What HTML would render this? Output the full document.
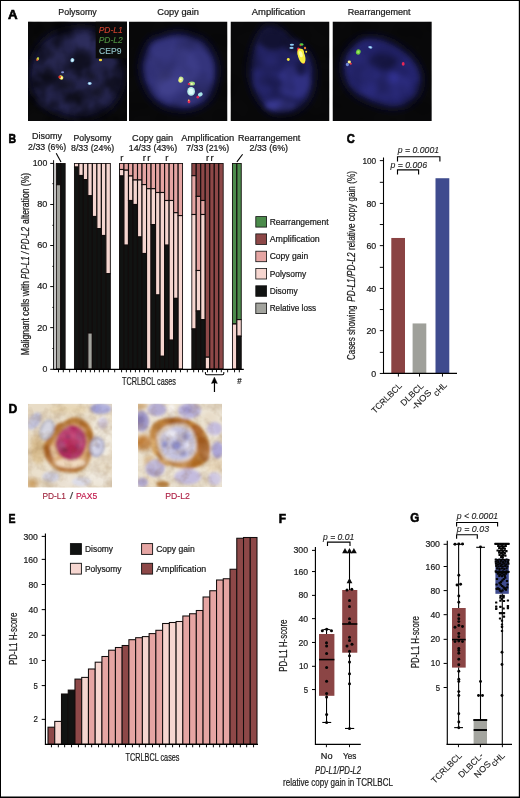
<!DOCTYPE html>
<html lang="en">
<head>
<meta charset="utf-8">
<title>PD-L1 / PD-L2 alterations in TCRLBCL</title>
<style>
html,body{margin:0;padding:0;background:#fff;}
body{width:520px;height:798px;overflow:hidden;font-family:"Liberation Sans", sans-serif;}
svg{display:block;font-family:"Liberation Sans", sans-serif;}
</style>
</head>
<body>
<svg width="520" height="798" viewBox="0 0 520 798">
<defs>
<filter id="b1" x="-20%" y="-20%" width="140%" height="140%"><feGaussianBlur stdDeviation="1"/></filter>
<filter id="b2" x="-20%" y="-20%" width="140%" height="140%"><feGaussianBlur stdDeviation="2.2"/></filter>
<filter id="b3" x="-20%" y="-20%" width="140%" height="140%"><feGaussianBlur stdDeviation="3.5"/></filter>
<filter id="b05" x="-20%" y="-20%" width="140%" height="140%"><feGaussianBlur stdDeviation="0.55"/></filter>
<filter id="soft" x="-5%" y="-5%" width="110%" height="110%"><feGaussianBlur stdDeviation="0.35"/></filter>
<clipPath id="cA1"><rect x="28" y="21.5" width="99" height="99.5"/></clipPath>
<clipPath id="cA2"><rect x="129" y="21.5" width="98.5" height="99.5"/></clipPath>
<clipPath id="cA3"><rect x="230.5" y="21.5" width="99" height="99.5"/></clipPath>
<clipPath id="cA4"><rect x="332.5" y="21.5" width="99.3" height="99.4"/></clipPath>
<clipPath id="cD1"><rect x="28" y="403.8" width="84" height="83.8"/></clipPath>
<clipPath id="cD2"><rect x="138" y="403.8" width="84" height="83.2"/></clipPath>
</defs>
<rect x="0.00" y="0.00" width="520.00" height="798.00" fill="#fff"/>
<rect x="0.00" y="0.00" width="520.00" height="1.00" fill="#000"/>
<rect x="0.00" y="0.00" width="1.00" height="798.00" fill="#000"/>
<rect x="518.80" y="0.00" width="1.20" height="798.00" fill="#000"/>
<rect x="0.00" y="796.50" width="520.00" height="1.50" fill="#000"/>
<text x="8.00" y="18.70" font-size="12.8" font-weight="bold" fill="#000" textLength="9.60" lengthAdjust="spacingAndGlyphs" stroke="#000" stroke-width="0.6">A</text>
<text x="8.50" y="142.50" font-size="12.8" font-weight="bold" fill="#000" textLength="7.60" lengthAdjust="spacingAndGlyphs" stroke="#000" stroke-width="0.6">B</text>
<text x="346.70" y="143.30" font-size="12.8" font-weight="bold" fill="#000" textLength="8.00" lengthAdjust="spacingAndGlyphs" stroke="#000" stroke-width="0.6">C</text>
<text x="8.50" y="413.30" font-size="12.8" font-weight="bold" fill="#000" textLength="8.80" lengthAdjust="spacingAndGlyphs" stroke="#000" stroke-width="0.6">D</text>
<text x="8.50" y="522.50" font-size="12.8" font-weight="bold" fill="#000" textLength="7.00" lengthAdjust="spacingAndGlyphs" stroke="#000" stroke-width="0.6">E</text>
<text x="278.70" y="522.50" font-size="12.8" font-weight="bold" fill="#000" textLength="7.30" lengthAdjust="spacingAndGlyphs" stroke="#000" stroke-width="0.6">F</text>
<text x="410.30" y="522.40" font-size="12.8" font-weight="bold" fill="#000" textLength="9.00" lengthAdjust="spacingAndGlyphs" stroke="#000" stroke-width="0.6">G</text>
<text x="58.30" y="14.80" font-size="8.9" fill="#1a1a1a" textLength="38.40" lengthAdjust="spacingAndGlyphs" stroke="#1a1a1a" stroke-width="0.22">Polysomy</text>
<text x="157.30" y="14.80" font-size="8.9" fill="#1a1a1a" textLength="41.60" lengthAdjust="spacingAndGlyphs" stroke="#1a1a1a" stroke-width="0.22">Copy gain</text>
<text x="251.80" y="14.80" font-size="8.9" fill="#1a1a1a" textLength="53.40" lengthAdjust="spacingAndGlyphs" stroke="#1a1a1a" stroke-width="0.22">Amplification</text>
<text x="347.80" y="14.80" font-size="8.9" fill="#1a1a1a" textLength="62.80" lengthAdjust="spacingAndGlyphs" stroke="#1a1a1a" stroke-width="0.22">Rearrangement</text>
<defs><filter id="mott" x="0" y="0" width="100%" height="100%" color-interpolation-filters="sRGB">
<feTurbulence type="fractalNoise" baseFrequency="0.055" numOctaves="3" seed="4" result="n"/>
<feColorMatrix in="n" type="matrix" values="0 0 0 0 0  0 0 0 0 0  0 0 0 0 0  2.6 0 0 0 -0.95"/>
<feGaussianBlur stdDeviation="0.8"/>
</filter>
<filter id="mott2" x="0" y="0" width="100%" height="100%" color-interpolation-filters="sRGB">
<feTurbulence type="fractalNoise" baseFrequency="0.04" numOctaves="2" seed="11" result="n"/>
<feColorMatrix in="n" type="matrix" values="0 0 0 0 0  0 0 0 0 0  0 0 0 0 0  1.8 0 0 0 -0.75"/>
<feGaussianBlur stdDeviation="1"/>
</filter>
<filter id="bs" x="-30%" y="-30%" width="160%" height="160%"><feGaussianBlur stdDeviation="0.7"/></filter>
<filter id="bn" x="-20%" y="-20%" width="140%" height="140%" color-interpolation-filters="sRGB"><feGaussianBlur stdDeviation="2.6"/><feColorMatrix type="saturate" values="0.85"/></filter>
<filter id="bn1" x="-20%" y="-20%" width="140%" height="140%" color-interpolation-filters="sRGB"><feGaussianBlur stdDeviation="2.4"/><feColorMatrix type="matrix" values="0.82 0.12 0.06 0 0.012  0.1 0.84 0.06 0 0.012  0.06 0.1 0.78 0 0.0  0 0 0 1 0"/></filter>
<filter id="bh" x="-20%" y="-20%" width="140%" height="140%"><feGaussianBlur stdDeviation="4.5"/></filter></defs>
<g clip-path="url(#cA1)">
<rect x="28.00" y="21.50" width="99.00" height="99.50" fill="#0a0a0b"/>
<path d="M83.8 26.8 C90.5 27.1 95.9 29.0 101.1 32.5 C106.2 36.1 110.7 41.8 114.5 47.9 C118.4 54.0 122.9 62.3 124.2 69.1 C125.4 75.8 124.5 81.9 122.2 88.3 C120.0 94.7 116.8 102.5 110.7 107.5 C104.6 112.6 94.7 117.7 85.7 118.7 C76.7 119.7 65.2 116.8 56.8 113.3 C48.5 109.8 40.2 103.7 35.7 97.9 C31.1 92.2 30.2 85.1 29.5 78.7 C28.9 72.3 29.9 65.6 31.8 59.5 C33.8 53.4 36.7 47.0 41.5 42.2 C46.3 37.3 53.6 33.2 60.7 30.6 C67.7 28.1 77.0 26.4 83.8 26.8 Z" fill="#131338" filter="url(#bh)"/>
<g filter="url(#bn1)">
<path d="M83.8 30.6 C90.2 30.9 96.3 33.2 101.1 36.4 C105.9 39.6 109.4 44.4 112.6 49.8 C115.8 55.3 119.3 63.0 120.3 69.1 C121.3 75.2 120.6 80.6 118.4 86.4 C116.1 92.2 112.3 99.0 106.8 103.7 C101.4 108.3 93.7 113.3 85.7 114.3 C77.7 115.2 66.5 112.5 58.8 109.5 C51.1 106.4 43.7 101.1 39.5 96.0 C35.4 90.9 34.4 84.5 33.8 78.7 C33.1 72.9 33.8 67.0 35.7 61.4 C37.6 55.8 40.8 49.5 45.3 45.0 C49.8 40.6 56.2 36.9 62.6 34.5 C69.0 32.1 77.4 30.3 83.8 30.6 Z" fill="#1d1d5a"/>
<ellipse cx="85.7" cy="42.2" rx="13.46" ry="8.65" fill="#26266e"/>
<ellipse cx="56.8" cy="57.5" rx="11.54" ry="9.62" fill="#20205f"/>
<ellipse cx="53.0" cy="101.8" rx="15.38" ry="6.73" fill="#1f1f60"/>
<ellipse cx="110.7" cy="84.5" rx="6.73" ry="11.54" fill="#1f1f5e"/>
<ellipse cx="47.2" cy="72.9" rx="4.81" ry="7.69" fill="#121236"/>
<ellipse cx="66.5" cy="84.5" rx="8.65" ry="4.81" fill="#131338"/>
<ellipse cx="91.5" cy="76.8" rx="4.81" ry="3.85" fill="#111132"/>
<ellipse cx="97.2" cy="92.2" rx="5.77" ry="5.77" fill="#131336"/>
<ellipse cx="76.1" cy="97.9" rx="6.73" ry="3.85" fill="#15153c"/>
</g>
<rect x="28.00" y="21.50" width="99.00" height="99.50" fill="#000" filter="url(#mott)" opacity="0.55"/>
<g filter="url(#bs)">
<ellipse cx="37.8" cy="58.9" rx="1.25" ry="1.54" fill="#e8d040" transform="rotate(30 37.8 58.9)"/>
<ellipse cx="37.0" cy="60.0" rx="0.87" ry="0.87" fill="#e04030"/>
<ellipse cx="38.4" cy="57.9" rx="0.67" ry="0.67" fill="#70c040"/>
<ellipse cx="72.4" cy="60.2" rx="1.92" ry="2.12" fill="#9fd8f0" transform="rotate(20 72.4 60.2)"/>
<ellipse cx="72.4" cy="60.2" rx="0.87" ry="1.06" fill="#e8f8ff"/>
<ellipse cx="62.6" cy="72.2" rx="1.54" ry="1.06" fill="#7f8fd0"/>
<ellipse cx="61.1" cy="77.5" rx="2.31" ry="1.92" fill="#f4e850" transform="rotate(30 61.1 77.5)"/>
<ellipse cx="59.7" cy="77.0" rx="1.35" ry="1.35" fill="#e83028"/>
<ellipse cx="61.7" cy="77.9" rx="0.87" ry="0.87" fill="#fffad0"/>
<ellipse cx="89.7" cy="83.5" rx="1.92" ry="1.44" fill="#90c8f0"/>
<ellipse cx="89.7" cy="83.5" rx="0.87" ry="0.67" fill="#e0f4ff"/>
<ellipse cx="100.5" cy="60.0" rx="1.63" ry="1.25" fill="#f4d838"/>
</g>
<rect x="95.70" y="21.50" width="31.30" height="36.90" fill="#0b0b0b"/>
<text x="98.70" y="33.00" font-size="8.8" font-style="italic" fill="#cf4330" textLength="24.00" lengthAdjust="spacingAndGlyphs" stroke="#cf4330" stroke-width="0.12">PD-L1</text>
<text x="98.70" y="43.40" font-size="8.8" font-style="italic" fill="#4f9040" textLength="24.00" lengthAdjust="spacingAndGlyphs" stroke="#4f9040" stroke-width="0.12">PD-L2</text>
<text x="99.10" y="53.80" font-size="8.8" fill="#93c6cc" textLength="22.30" lengthAdjust="spacingAndGlyphs" stroke="#93c6cc" stroke-width="0.12">CEP9</text>
</g>
<g clip-path="url(#cA2)">
<rect x="129.00" y="21.50" width="98.50" height="99.50" fill="#09090a"/>
<path d="M177.1 31.6 C182.2 31.4 187.3 32.5 192.5 34.5 C197.6 36.4 203.6 38.0 207.8 43.1 C212.1 48.2 216.7 57.4 217.8 65.2 C219.0 73.1 217.0 83.5 214.6 90.2 C212.1 97.0 209.1 102.2 203.0 105.6 C196.9 109.1 186.5 112.1 178.0 111.0 C169.5 109.9 158.4 105.9 152.1 98.9 C145.8 91.9 140.9 78.5 140.2 69.1 C139.4 59.6 144.3 47.8 147.8 42.2 C151.4 36.5 156.8 37.2 161.7 35.4 C166.6 33.7 171.9 31.7 177.1 31.6 Z" fill="#18184a" filter="url(#bh)"/>
<g filter="url(#bn)">
<path d="M177.1 36.4 C182.0 36.3 187.8 36.9 192.5 38.7 C197.1 40.5 201.4 42.4 205.0 47.0 C208.5 51.5 212.7 59.3 213.6 66.2 C214.6 73.1 213.0 82.4 210.7 88.3 C208.5 94.2 205.6 98.7 200.2 101.8 C194.7 104.8 185.6 107.5 178.0 106.6 C170.5 105.6 160.6 102.2 155.0 96.0 C149.4 89.8 145.0 77.4 144.4 69.1 C143.7 60.7 148.1 51.0 151.1 46.0 C154.2 41.0 158.3 40.9 162.7 39.3 C167.0 37.7 172.1 36.5 177.1 36.4 Z" fill="#333388"/>
<ellipse cx="177.1" cy="69.1" rx="22.12" ry="22.12" fill="#3a3a92"/>
<ellipse cx="163.6" cy="59.5" rx="14.42" ry="11.54" fill="#35358a"/>
<ellipse cx="167.5" cy="84.5" rx="11.54" ry="11.54" fill="#3f3f98"/>
</g>
<rect x="129.00" y="21.50" width="98.50" height="99.50" fill="#000" filter="url(#mott2)" opacity="0.3"/>
<g filter="url(#bs)">
<ellipse cx="180.9" cy="79.7" rx="2.50" ry="3.08" fill="#c8e890" transform="rotate(15 180.9 79.7)"/>
<ellipse cx="180.2" cy="80.2" rx="1.35" ry="1.73" fill="#f8f070"/>
<ellipse cx="180.9" cy="79.3" rx="0.77" ry="0.96" fill="#ffffe8"/>
<ellipse cx="191.9" cy="83.5" rx="3.08" ry="2.12" fill="#a8e080"/>
<ellipse cx="189.0" cy="84.1" rx="1.35" ry="1.15" fill="#e82850"/>
<ellipse cx="191.7" cy="83.9" rx="1.15" ry="0.96" fill="#fff8c0"/>
<ellipse cx="191.1" cy="91.4" rx="3.85" ry="4.42" fill="#b8ece8"/>
<ellipse cx="191.1" cy="91.4" rx="2.31" ry="2.69" fill="#e0fafa"/>
<ellipse cx="200.3" cy="94.5" rx="2.50" ry="1.92" fill="#a8e4e8" transform="rotate(-25 200.3 94.5)"/>
<ellipse cx="197.8" cy="97.2" rx="1.35" ry="1.35" fill="#e02858"/>
<ellipse cx="189.0" cy="101.4" rx="1.35" ry="1.92" fill="#e83058"/>
<ellipse cx="188.6" cy="100.2" rx="0.67" ry="0.67" fill="#f0e060"/>
</g>
</g>
<g clip-path="url(#cA3)">
<rect x="230.50" y="21.50" width="99.00" height="99.50" fill="#09090a"/>
<path d="M266.5 24.8 C270.1 23.4 274.7 26.1 278.1 27.7 C281.4 29.4 284.0 32.4 286.7 34.8 C289.5 37.3 291.1 40.0 294.4 42.5 C297.8 45.0 303.7 46.4 306.9 49.8 C310.2 53.3 312.5 58.5 313.8 63.3 C315.2 68.1 315.4 73.2 315.0 78.7 C314.6 84.1 313.5 90.9 311.2 96.0 C308.8 101.1 305.7 105.8 301.2 109.1 C296.6 112.3 289.3 115.2 283.8 115.6 C278.4 116.1 273.0 114.7 268.5 111.8 C263.9 108.9 259.6 103.5 256.5 98.3 C253.4 93.1 251.1 86.1 249.8 80.6 C248.5 75.1 248.5 70.4 248.8 65.2 C249.2 60.1 250.4 54.7 251.7 49.8 C253.1 45.0 254.5 40.6 256.9 36.4 C259.4 32.2 263.0 26.3 266.5 24.8 Z" fill="#141440" filter="url(#bh)"/>
<g filter="url(#bn)">
<path d="M267.5 29.7 C270.3 28.4 274.2 30.6 277.1 32.2 C280.0 33.8 282.1 36.8 284.8 39.3 C287.5 41.7 290.3 44.6 293.5 47.0 C296.7 49.3 301.3 50.4 304.0 53.3 C306.8 56.2 308.7 60.0 309.8 64.3 C310.9 68.5 311.2 73.7 310.8 78.7 C310.4 83.7 309.4 89.6 307.3 94.1 C305.2 98.6 302.2 102.7 298.3 105.6 C294.4 108.5 288.6 111.0 283.8 111.4 C279.1 111.8 274.0 110.4 270.0 107.9 C266.0 105.4 262.5 100.9 259.8 96.4 C257.1 91.8 255.0 85.7 253.8 80.6 C252.7 75.5 252.8 70.5 253.1 65.6 C253.4 60.7 254.6 55.7 255.8 51.4 C257.0 47.1 258.4 43.5 260.4 39.8 C262.3 36.2 264.7 30.9 267.5 29.7 Z" fill="#222270"/>
<ellipse cx="293.5" cy="82.5" rx="16.35" ry="16.35" fill="#2f2f8e"/>
<ellipse cx="264.6" cy="78.7" rx="11.54" ry="15.38" fill="#26267c"/>
<ellipse cx="280.0" cy="105.6" rx="15.38" ry="5.77" fill="#3838a0"/>
<ellipse cx="268.5" cy="59.5" rx="10.58" ry="11.54" fill="#26267a"/>
<ellipse cx="273.3" cy="39.3" rx="14.42" ry="10.58" fill="#121238"/>
<ellipse cx="293.5" cy="46.0" rx="8.65" ry="6.73" fill="#14143e"/>
<ellipse cx="301.2" cy="67.2" rx="4.81" ry="8.65" fill="#1a1a58"/>
<ellipse cx="274.2" cy="82.5" rx="7.69" ry="5.77" fill="#1d1d62"/>
</g>
<rect x="230.50" y="21.50" width="99.00" height="99.50" fill="#000" filter="url(#mott2)" opacity="0.4"/>
<g filter="url(#bs)">
<ellipse cx="298.8" cy="50.8" rx="1.54" ry="3.27" fill="#e82838" transform="rotate(-10 298.8 50.8)"/>
<ellipse cx="303.3" cy="61.8" rx="1.35" ry="2.12" fill="#e83030" transform="rotate(-30 303.3 61.8)"/>
<ellipse cx="301.5" cy="56.0" rx="3.46" ry="7.69" fill="#f6ee40" transform="rotate(-17 301.5 56.0)"/>
<ellipse cx="300.8" cy="52.9" rx="3.27" ry="4.23" fill="#f6ee40"/>
<ellipse cx="300.8" cy="54.1" rx="1.73" ry="3.27" fill="#ffffa8" transform="rotate(-17 300.8 54.1)"/>
<ellipse cx="301.5" cy="44.5" rx="1.92" ry="1.35" fill="#58d040"/>
<ellipse cx="300.4" cy="45.6" rx="0.87" ry="0.77" fill="#e83030"/>
<ellipse cx="305.0" cy="47.9" rx="1.06" ry="1.25" fill="#f08030"/>
<ellipse cx="306.2" cy="51.8" rx="0.96" ry="1.06" fill="#f4e040"/>
<ellipse cx="291.9" cy="44.8" rx="2.12" ry="0.96" fill="#90d0f8"/>
<ellipse cx="291.5" cy="47.9" rx="2.12" ry="1.06" fill="#88c8f0"/>
<ellipse cx="288.3" cy="59.5" rx="1.44" ry="1.44" fill="#f4e840"/>
</g>
</g>
<g clip-path="url(#cA4)">
<rect x="332.50" y="21.50" width="99.30" height="99.50" fill="#09090a"/>
<path d="M363.7 36.4 C368.2 35.5 374.6 35.9 380.1 37.2 C385.5 38.4 390.7 40.2 396.4 43.7 C402.1 47.2 409.9 52.4 414.3 57.9 C418.7 63.4 422.0 70.5 422.8 76.8 C423.5 83.1 421.6 90.7 418.9 95.6 C416.2 100.5 411.5 103.9 406.6 106.0 C401.7 108.1 395.9 109.0 389.7 108.5 C383.5 108.0 375.9 105.5 369.5 102.7 C363.1 100.0 355.8 97.1 351.2 92.2 C346.6 87.2 343.2 79.6 342.0 73.3 C340.8 67.1 342.1 59.8 343.9 54.7 C345.8 49.5 349.9 45.6 353.2 42.5 C356.5 39.5 359.2 37.3 363.7 36.4 Z" fill="#131340" filter="url(#bh)"/>
<g filter="url(#bn)">
<path d="M364.1 40.2 C368.1 39.5 374.9 39.8 380.1 41.0 C385.3 42.2 390.2 44.3 395.5 47.5 C400.7 50.7 407.7 55.4 411.6 60.2 C415.5 65.1 418.3 71.3 418.9 76.8 C419.5 82.3 417.4 89.1 415.1 93.3 C412.7 97.5 408.9 100.3 404.7 102.2 C400.5 104.0 395.4 105.0 389.7 104.5 C384.0 103.9 376.4 101.4 370.5 98.9 C364.5 96.3 358.0 93.4 353.9 89.1 C349.8 84.8 346.9 78.4 345.8 72.9 C344.8 67.5 346.0 60.9 347.8 56.4 C349.5 51.8 353.5 48.3 356.2 45.6 C359.0 42.9 360.1 41.0 364.1 40.2 Z" fill="#23237a"/>
<ellipse cx="385.8" cy="85.4" rx="25.96" ry="14.42" fill="#2a2a8a"/>
<ellipse cx="360.8" cy="66.2" rx="14.42" ry="15.38" fill="#26267e"/>
<ellipse cx="382.0" cy="61.4" rx="13.46" ry="6.73" fill="#1a1a5a"/>
<ellipse cx="391.6" cy="76.8" rx="6.73" ry="5.77" fill="#3030a0"/>
<ellipse cx="373.3" cy="86.4" rx="5.77" ry="4.81" fill="#2e2e98"/>
</g>
<rect x="332.50" y="21.50" width="99.00" height="99.50" fill="#000" filter="url(#mott2)" opacity="0.35"/>
<g filter="url(#bs)">
<ellipse cx="358.3" cy="52.0" rx="2.31" ry="2.69" fill="#68c840" transform="rotate(20 358.3 52.0)"/>
<ellipse cx="358.3" cy="52.0" rx="1.15" ry="1.35" fill="#a0e860"/>
<ellipse cx="370.3" cy="47.3" rx="2.12" ry="1.25" fill="#80b8e8" transform="rotate(15 370.3 47.3)"/>
<ellipse cx="370.3" cy="47.3" rx="0.96" ry="0.58" fill="#c0e0f8"/>
<ellipse cx="347.4" cy="64.5" rx="1.54" ry="1.73" fill="#7088d8"/>
<ellipse cx="350.8" cy="63.7" rx="1.06" ry="1.06" fill="#e83848"/>
<ellipse cx="349.3" cy="62.0" rx="1.63" ry="1.44" fill="#f4ec70"/>
<ellipse cx="349.1" cy="61.8" rx="0.77" ry="0.67" fill="#ffffe0"/>
<ellipse cx="403.2" cy="63.9" rx="1.44" ry="1.83" fill="#e82858"/>
</g>
</g>
<rect x="54.00" y="163.30" width="2.00" height="205.70" fill="#d2d2d2"/>
<defs>
<clipPath id="cB0"><rect x="55.85" y="163.00" width="9.83" height="206.60"/></clipPath>
<clipPath id="cB1"><rect x="73.91" y="163.00" width="36.92" height="206.60"/></clipPath>
<clipPath id="cB2"><rect x="119.06" y="163.00" width="64.01" height="206.60"/></clipPath>
<clipPath id="cB3"><rect x="191.30" y="163.00" width="32.40" height="206.60"/></clipPath>
<clipPath id="cB4"><rect x="231.93" y="163.00" width="9.83" height="206.60"/></clipPath>
</defs>
<g stroke="#120c0c" stroke-width="1.1" clip-path="url(#cB0)">
<rect x="56.25" y="163.30" width="4.51" height="21.40" fill="#111312"/>
<rect x="56.25" y="184.70" width="4.51" height="184.30" fill="#a3a49e"/>
<rect x="60.77" y="163.30" width="4.51" height="205.70" fill="#111312"/>
</g>
<g stroke="#120c0c" stroke-width="1.1" clip-path="url(#cB1)">
<rect x="74.31" y="163.30" width="4.51" height="3.80" fill="#f6d6d0"/>
<rect x="74.31" y="167.10" width="4.51" height="201.90" fill="#111312"/>
<rect x="78.83" y="163.30" width="4.51" height="12.20" fill="#f6d6d0"/>
<rect x="78.83" y="175.50" width="4.51" height="193.50" fill="#111312"/>
<rect x="83.34" y="163.30" width="4.51" height="16.30" fill="#f6d6d0"/>
<rect x="83.34" y="179.60" width="4.51" height="189.40" fill="#111312"/>
<rect x="87.85" y="163.30" width="4.51" height="32.50" fill="#f6d6d0"/>
<rect x="87.85" y="195.80" width="4.51" height="137.20" fill="#111312"/>
<rect x="87.85" y="333.00" width="4.51" height="36.00" fill="#a3a49e"/>
<rect x="92.37" y="163.30" width="4.51" height="53.20" fill="#f6d6d0"/>
<rect x="92.37" y="216.50" width="4.51" height="152.50" fill="#111312"/>
<rect x="96.88" y="163.30" width="4.51" height="65.40" fill="#f6d6d0"/>
<rect x="96.88" y="228.70" width="4.51" height="140.30" fill="#111312"/>
<rect x="101.40" y="163.30" width="4.51" height="72.20" fill="#f6d6d0"/>
<rect x="101.40" y="235.50" width="4.51" height="133.50" fill="#111312"/>
<rect x="105.91" y="163.30" width="4.51" height="110.40" fill="#f6d6d0"/>
<rect x="105.91" y="273.70" width="4.51" height="95.30" fill="#111312"/>
</g>
<g stroke="#120c0c" stroke-width="1.1" clip-path="url(#cB2)">
<rect x="119.46" y="163.30" width="4.51" height="6.20" fill="#e5a5a3"/>
<rect x="119.46" y="169.50" width="4.51" height="6.50" fill="#f6d6d0"/>
<rect x="119.46" y="176.00" width="4.51" height="193.00" fill="#111312"/>
<rect x="123.97" y="163.30" width="4.51" height="6.90" fill="#e5a5a3"/>
<rect x="123.97" y="170.20" width="4.51" height="75.00" fill="#f6d6d0"/>
<rect x="123.97" y="245.20" width="4.51" height="123.80" fill="#111312"/>
<rect x="128.49" y="163.30" width="4.51" height="12.70" fill="#e5a5a3"/>
<rect x="128.49" y="176.00" width="4.51" height="24.50" fill="#f6d6d0"/>
<rect x="128.49" y="200.50" width="4.51" height="168.50" fill="#111312"/>
<rect x="133.00" y="163.30" width="4.51" height="16.70" fill="#e5a5a3"/>
<rect x="133.00" y="180.00" width="4.51" height="24.50" fill="#f6d6d0"/>
<rect x="133.00" y="204.50" width="4.51" height="164.50" fill="#111312"/>
<rect x="137.52" y="163.30" width="4.51" height="16.70" fill="#e5a5a3"/>
<rect x="137.52" y="180.00" width="4.51" height="57.00" fill="#f6d6d0"/>
<rect x="137.52" y="237.00" width="4.51" height="132.00" fill="#111312"/>
<rect x="142.03" y="163.30" width="4.51" height="21.30" fill="#e5a5a3"/>
<rect x="142.03" y="184.60" width="4.51" height="68.90" fill="#f6d6d0"/>
<rect x="142.03" y="253.50" width="4.51" height="115.50" fill="#111312"/>
<rect x="146.55" y="163.30" width="4.51" height="25.40" fill="#e5a5a3"/>
<rect x="146.55" y="188.70" width="4.51" height="180.30" fill="#f6d6d0"/>
<rect x="151.06" y="163.30" width="4.51" height="25.40" fill="#e5a5a3"/>
<rect x="151.06" y="188.70" width="4.51" height="35.90" fill="#f6d6d0"/>
<rect x="151.06" y="224.60" width="4.51" height="144.40" fill="#111312"/>
<rect x="155.58" y="163.30" width="4.51" height="29.20" fill="#e5a5a3"/>
<rect x="155.58" y="192.50" width="4.51" height="102.50" fill="#f6d6d0"/>
<rect x="155.58" y="295.00" width="4.51" height="74.00" fill="#111312"/>
<rect x="160.09" y="163.30" width="4.51" height="29.20" fill="#e5a5a3"/>
<rect x="160.09" y="192.50" width="4.51" height="163.80" fill="#f6d6d0"/>
<rect x="160.09" y="356.30" width="4.51" height="12.70" fill="#111312"/>
<rect x="164.61" y="163.30" width="4.51" height="37.20" fill="#e5a5a3"/>
<rect x="164.61" y="200.50" width="4.51" height="44.70" fill="#f6d6d0"/>
<rect x="164.61" y="245.20" width="4.51" height="123.80" fill="#111312"/>
<rect x="169.12" y="163.30" width="4.51" height="37.20" fill="#e5a5a3"/>
<rect x="169.12" y="200.50" width="4.51" height="139.70" fill="#f6d6d0"/>
<rect x="169.12" y="340.20" width="4.51" height="28.80" fill="#111312"/>
<rect x="173.64" y="163.30" width="4.51" height="49.40" fill="#e5a5a3"/>
<rect x="173.64" y="212.70" width="4.51" height="85.70" fill="#f6d6d0"/>
<rect x="173.64" y="298.40" width="4.51" height="70.60" fill="#111312"/>
<rect x="178.15" y="163.30" width="4.51" height="52.30" fill="#e5a5a3"/>
<rect x="178.15" y="215.60" width="4.51" height="153.40" fill="#f6d6d0"/>
</g>
<g stroke="#120c0c" stroke-width="1.1" clip-path="url(#cB3)">
<rect x="191.70" y="163.30" width="4.51" height="12.40" fill="#8d4848"/>
<rect x="191.70" y="175.70" width="4.51" height="38.80" fill="#e5a5a3"/>
<rect x="191.70" y="214.50" width="4.51" height="114.50" fill="#f6d6d0"/>
<rect x="191.70" y="329.00" width="4.51" height="40.00" fill="#111312"/>
<rect x="196.22" y="163.30" width="4.51" height="33.10" fill="#8d4848"/>
<rect x="196.22" y="196.40" width="4.51" height="74.10" fill="#e5a5a3"/>
<rect x="196.22" y="270.50" width="4.51" height="40.50" fill="#f6d6d0"/>
<rect x="196.22" y="311.00" width="4.51" height="58.00" fill="#111312"/>
<rect x="200.73" y="163.30" width="4.51" height="37.20" fill="#8d4848"/>
<rect x="200.73" y="200.50" width="4.51" height="14.00" fill="#e5a5a3"/>
<rect x="200.73" y="214.50" width="4.51" height="105.10" fill="#f6d6d0"/>
<rect x="200.73" y="319.60" width="4.51" height="49.40" fill="#111312"/>
<rect x="205.24" y="163.30" width="4.51" height="193.90" fill="#8d4848"/>
<rect x="205.24" y="357.20" width="4.51" height="11.80" fill="#f6d6d0"/>
<rect x="209.76" y="163.30" width="4.51" height="205.70" fill="#8d4848"/>
<rect x="214.27" y="163.30" width="4.51" height="205.70" fill="#8d4848"/>
<rect x="218.79" y="163.30" width="4.51" height="205.70" fill="#8d4848"/>
</g>
<g stroke="#120c0c" stroke-width="1.1" clip-path="url(#cB4)">
<rect x="232.33" y="163.30" width="4.51" height="160.70" fill="#4b8b4b"/>
<rect x="232.33" y="324.00" width="4.51" height="45.00" fill="#f6d6d0"/>
<rect x="236.85" y="163.30" width="4.51" height="156.30" fill="#4b8b4b"/>
<rect x="236.85" y="319.60" width="4.51" height="16.60" fill="#f6d6d0"/>
<rect x="236.85" y="336.20" width="4.51" height="32.80" fill="#111312"/>
</g>
<line x1="53.58" y1="160.20" x2="53.58" y2="369.40" stroke="#000" stroke-width="0.96" />
<line x1="53.30" y1="369.34" x2="243.80" y2="369.34" stroke="#000" stroke-width="1.2" />
<line x1="50.20" y1="369.30" x2="53.70" y2="369.30" stroke="#000" stroke-width="0.96" />
<line x1="52.40" y1="348.47" x2="53.70" y2="348.47" stroke="#000" stroke-width="0.96" />
<line x1="50.20" y1="327.64" x2="53.70" y2="327.64" stroke="#000" stroke-width="0.96" />
<line x1="52.40" y1="307.42" x2="53.70" y2="307.42" stroke="#000" stroke-width="0.96" />
<line x1="50.20" y1="286.59" x2="53.70" y2="286.59" stroke="#000" stroke-width="0.96" />
<line x1="52.40" y1="266.36" x2="53.70" y2="266.36" stroke="#000" stroke-width="0.96" />
<line x1="50.20" y1="245.53" x2="53.70" y2="245.53" stroke="#000" stroke-width="0.96" />
<line x1="52.40" y1="225.30" x2="53.70" y2="225.30" stroke="#000" stroke-width="0.96" />
<line x1="50.20" y1="204.48" x2="53.70" y2="204.48" stroke="#000" stroke-width="0.96" />
<line x1="52.40" y1="183.65" x2="53.70" y2="183.65" stroke="#000" stroke-width="0.96" />
<line x1="50.20" y1="163.42" x2="53.70" y2="163.42" stroke="#000" stroke-width="0.96" />
<text x="47.30" y="371.70" font-size="9.4" text-anchor="end" fill="#1a1a1a" textLength="4.90" lengthAdjust="spacingAndGlyphs" stroke="#1a1a1a" stroke-width="0.22">0</text>
<text x="47.30" y="330.56" font-size="9.4" text-anchor="end" fill="#1a1a1a" textLength="10.10" lengthAdjust="spacingAndGlyphs" stroke="#1a1a1a" stroke-width="0.22">20</text>
<text x="47.30" y="289.42" font-size="9.4" text-anchor="end" fill="#1a1a1a" textLength="10.10" lengthAdjust="spacingAndGlyphs" stroke="#1a1a1a" stroke-width="0.22">40</text>
<text x="47.30" y="248.28" font-size="9.4" text-anchor="end" fill="#1a1a1a" textLength="10.10" lengthAdjust="spacingAndGlyphs" stroke="#1a1a1a" stroke-width="0.22">60</text>
<text x="47.30" y="207.14" font-size="9.4" text-anchor="end" fill="#1a1a1a" textLength="10.10" lengthAdjust="spacingAndGlyphs" stroke="#1a1a1a" stroke-width="0.22">80</text>
<text x="47.30" y="166.00" font-size="9.4" text-anchor="end" fill="#1a1a1a" textLength="14.60" lengthAdjust="spacingAndGlyphs" stroke="#1a1a1a" stroke-width="0.22">100</text>
<line x1="58.50" y1="369.00" x2="58.50" y2="372.30" stroke="#000" stroke-width="0.96" />
<line x1="63.31" y1="369.00" x2="63.31" y2="372.30" stroke="#000" stroke-width="0.96" />
<line x1="76.53" y1="369.00" x2="76.53" y2="372.30" stroke="#000" stroke-width="0.96" />
<line x1="81.33" y1="369.00" x2="81.33" y2="372.30" stroke="#000" stroke-width="0.96" />
<line x1="85.54" y1="369.00" x2="85.54" y2="372.30" stroke="#000" stroke-width="0.96" />
<line x1="90.34" y1="369.00" x2="90.34" y2="372.30" stroke="#000" stroke-width="0.96" />
<line x1="94.55" y1="369.00" x2="94.55" y2="372.30" stroke="#000" stroke-width="0.96" />
<line x1="99.36" y1="369.00" x2="99.36" y2="372.30" stroke="#000" stroke-width="0.96" />
<line x1="103.56" y1="369.00" x2="103.56" y2="372.30" stroke="#000" stroke-width="0.96" />
<line x1="108.37" y1="369.00" x2="108.37" y2="372.30" stroke="#000" stroke-width="0.96" />
<line x1="121.59" y1="369.00" x2="121.59" y2="372.30" stroke="#000" stroke-width="0.96" />
<line x1="126.39" y1="369.00" x2="126.39" y2="372.30" stroke="#000" stroke-width="0.96" />
<line x1="130.60" y1="369.00" x2="130.60" y2="372.30" stroke="#000" stroke-width="0.96" />
<line x1="135.41" y1="369.00" x2="135.41" y2="372.30" stroke="#000" stroke-width="0.96" />
<line x1="139.61" y1="369.00" x2="139.61" y2="372.30" stroke="#000" stroke-width="0.96" />
<line x1="144.42" y1="369.00" x2="144.42" y2="372.30" stroke="#000" stroke-width="0.96" />
<line x1="148.62" y1="369.00" x2="148.62" y2="372.30" stroke="#000" stroke-width="0.96" />
<line x1="153.43" y1="369.00" x2="153.43" y2="372.30" stroke="#000" stroke-width="0.96" />
<line x1="157.63" y1="369.00" x2="157.63" y2="372.30" stroke="#000" stroke-width="0.96" />
<line x1="162.44" y1="369.00" x2="162.44" y2="372.30" stroke="#000" stroke-width="0.96" />
<line x1="166.65" y1="369.00" x2="166.65" y2="372.30" stroke="#000" stroke-width="0.96" />
<line x1="171.45" y1="369.00" x2="171.45" y2="372.30" stroke="#000" stroke-width="0.96" />
<line x1="175.66" y1="369.00" x2="175.66" y2="372.30" stroke="#000" stroke-width="0.96" />
<line x1="180.46" y1="369.00" x2="180.46" y2="372.30" stroke="#000" stroke-width="0.96" />
<line x1="193.68" y1="369.00" x2="193.68" y2="372.30" stroke="#000" stroke-width="0.96" />
<line x1="198.49" y1="369.00" x2="198.49" y2="372.30" stroke="#000" stroke-width="0.96" />
<line x1="202.69" y1="369.00" x2="202.69" y2="372.30" stroke="#000" stroke-width="0.96" />
<line x1="207.50" y1="369.00" x2="207.50" y2="372.30" stroke="#000" stroke-width="0.96" />
<line x1="212.31" y1="369.00" x2="212.31" y2="372.30" stroke="#000" stroke-width="0.96" />
<line x1="216.51" y1="369.00" x2="216.51" y2="372.30" stroke="#000" stroke-width="0.96" />
<line x1="221.32" y1="369.00" x2="221.32" y2="372.30" stroke="#000" stroke-width="0.96" />
<line x1="234.54" y1="369.00" x2="234.54" y2="372.30" stroke="#000" stroke-width="0.96" />
<line x1="239.34" y1="369.00" x2="239.34" y2="372.30" stroke="#000" stroke-width="0.96" />
<line x1="69.62" y1="369.00" x2="69.62" y2="372.30" stroke="#000" stroke-width="0.96" />
<line x1="114.68" y1="369.00" x2="114.68" y2="372.30" stroke="#000" stroke-width="0.96" />
<line x1="187.37" y1="369.00" x2="187.37" y2="372.30" stroke="#000" stroke-width="0.96" />
<line x1="227.63" y1="369.00" x2="227.63" y2="372.30" stroke="#000" stroke-width="0.96" />
<text x="29.00" y="355.20" font-size="10.7" fill="#1a1a1a" textLength="74.20" lengthAdjust="spacingAndGlyphs" transform="rotate(-90 29.00 355.20)" stroke="#1a1a1a" stroke-width="0.22">Malignant cells with</text>
<text x="29.00" y="279.00" font-size="10.7" font-style="italic" fill="#1a1a1a" textLength="52.00" lengthAdjust="spacingAndGlyphs" transform="rotate(-90 29.00 279.00)" stroke="#1a1a1a" stroke-width="0.22">PD-L1 / PD-L2</text>
<text x="29.00" y="223.90" font-size="10.7" fill="#1a1a1a" textLength="51.10" lengthAdjust="spacingAndGlyphs" transform="rotate(-90 29.00 223.90)" stroke="#1a1a1a" stroke-width="0.22">alteration (%)</text>
<text x="122.10" y="385.20" font-size="11.4" fill="#1a1a1a" textLength="53.90" lengthAdjust="spacingAndGlyphs" stroke="#1a1a1a" stroke-width="0.22">TCRLBCL cases</text>
<text x="31.90" y="138.60" font-size="8.8" fill="#1a1a1a" textLength="30.00" lengthAdjust="spacingAndGlyphs" stroke="#1a1a1a" stroke-width="0.22">Disomy</text>
<text x="28.10" y="149.50" font-size="8.8" fill="#1a1a1a" textLength="38.10" lengthAdjust="spacingAndGlyphs" stroke="#1a1a1a" stroke-width="0.22">2/33 (6%)</text>
<text x="73.50" y="140.50" font-size="8.8" fill="#1a1a1a" textLength="37.80" lengthAdjust="spacingAndGlyphs" stroke="#1a1a1a" stroke-width="0.22">Polysomy</text>
<text x="71.00" y="151.30" font-size="8.8" fill="#1a1a1a" textLength="43.20" lengthAdjust="spacingAndGlyphs" stroke="#1a1a1a" stroke-width="0.22">8/33 (24%)</text>
<text x="132.10" y="140.60" font-size="8.8" fill="#1a1a1a" textLength="41.10" lengthAdjust="spacingAndGlyphs" stroke="#1a1a1a" stroke-width="0.22">Copy gain</text>
<text x="128.70" y="151.10" font-size="8.8" fill="#1a1a1a" textLength="48.50" lengthAdjust="spacingAndGlyphs" stroke="#1a1a1a" stroke-width="0.22">14/33 (43%)</text>
<text x="181.20" y="140.50" font-size="8.8" fill="#1a1a1a" textLength="53.00" lengthAdjust="spacingAndGlyphs" stroke="#1a1a1a" stroke-width="0.22">Amplification</text>
<text x="186.20" y="151.20" font-size="8.8" fill="#1a1a1a" textLength="43.00" lengthAdjust="spacingAndGlyphs" stroke="#1a1a1a" stroke-width="0.22">7/33 (21%)</text>
<text x="238.00" y="140.50" font-size="8.8" fill="#1a1a1a" textLength="62.30" lengthAdjust="spacingAndGlyphs" stroke="#1a1a1a" stroke-width="0.22">Rearrangement</text>
<text x="249.50" y="151.20" font-size="8.8" fill="#1a1a1a" textLength="38.50" lengthAdjust="spacingAndGlyphs" stroke="#1a1a1a" stroke-width="0.22">2/33 (6%)</text>
<line x1="56.20" y1="153.20" x2="61.00" y2="161.90" stroke="#000" stroke-width="1.08" />
<line x1="242.60" y1="154.30" x2="236.90" y2="161.90" stroke="#000" stroke-width="1.08" />
<text x="121.72" y="161.20" font-size="9.5" text-anchor="middle" fill="#1a1a1a" stroke="#1a1a1a" stroke-width="0.22">r</text>
<text x="144.29" y="161.20" font-size="9.5" text-anchor="middle" fill="#1a1a1a" stroke="#1a1a1a" stroke-width="0.22">r</text>
<text x="148.81" y="161.20" font-size="9.5" text-anchor="middle" fill="#1a1a1a" stroke="#1a1a1a" stroke-width="0.22">r</text>
<text x="166.87" y="161.20" font-size="9.5" text-anchor="middle" fill="#1a1a1a" stroke="#1a1a1a" stroke-width="0.22">r</text>
<text x="207.50" y="161.20" font-size="9.5" text-anchor="middle" fill="#1a1a1a" stroke="#1a1a1a" stroke-width="0.22">r</text>
<text x="212.02" y="161.20" font-size="9.5" text-anchor="middle" fill="#1a1a1a" stroke="#1a1a1a" stroke-width="0.22">r</text>
<path d="M205.4 372 V373.6 Q205.4 374.8 206.8 374.8 H222.4 Q223.8 374.8 223.8 373.6 V372" stroke="#000" stroke-width="1.02" fill="none" />
<line x1="214.46" y1="381.00" x2="214.46" y2="392.00" stroke="#000" stroke-width="1.2" />
<path d="M214.4 377.2 L217.3 383.4 L214.4 382.7 L211.5 383.4 Z" fill="#000" stroke="#000" stroke-width="0.5" stroke-linejoin="round"/>
<text x="239.40" y="383.60" font-size="8.5" text-anchor="middle" fill="#1a1a1a" textLength="4.40" lengthAdjust="spacingAndGlyphs" stroke="#1a1a1a" stroke-width="0.22">#</text>
<rect x="255.80" y="216.60" width="10.80" height="10.50" fill="#4b8b4b" stroke="#111" stroke-width="0.8"/>
<text x="269.70" y="224.70" font-size="8.7" fill="#1a1a1a" textLength="59.00" lengthAdjust="spacingAndGlyphs" stroke="#1a1a1a" stroke-width="0.22">Rearrangement</text>
<rect x="255.80" y="233.90" width="10.80" height="10.50" fill="#8d4848" stroke="#111" stroke-width="0.8"/>
<text x="269.70" y="242.00" font-size="8.7" fill="#1a1a1a" textLength="50.00" lengthAdjust="spacingAndGlyphs" stroke="#1a1a1a" stroke-width="0.22">Amplification</text>
<rect x="255.80" y="251.20" width="10.80" height="10.50" fill="#e5a5a3" stroke="#111" stroke-width="0.8"/>
<text x="269.70" y="259.30" font-size="8.7" fill="#1a1a1a" textLength="38.50" lengthAdjust="spacingAndGlyphs" stroke="#1a1a1a" stroke-width="0.22">Copy gain</text>
<rect x="255.80" y="268.50" width="10.80" height="10.50" fill="#f6d6d0" stroke="#111" stroke-width="0.8"/>
<text x="269.70" y="276.60" font-size="8.7" fill="#1a1a1a" textLength="36.50" lengthAdjust="spacingAndGlyphs" stroke="#1a1a1a" stroke-width="0.22">Polysomy</text>
<rect x="255.80" y="285.80" width="10.80" height="10.50" fill="#111312" stroke="#111" stroke-width="0.8"/>
<text x="269.70" y="293.90" font-size="8.7" fill="#1a1a1a" textLength="28.00" lengthAdjust="spacingAndGlyphs" stroke="#1a1a1a" stroke-width="0.22">Disomy</text>
<rect x="255.80" y="303.10" width="10.80" height="10.50" fill="#a3a49e" stroke="#111" stroke-width="0.8"/>
<text x="269.70" y="311.20" font-size="8.7" fill="#1a1a1a" textLength="46.50" lengthAdjust="spacingAndGlyphs" stroke="#1a1a1a" stroke-width="0.22">Relative loss</text>
<rect x="391.30" y="237.97" width="13.70" height="135.43" fill="#8a4343"/>
<rect x="412.60" y="323.44" width="13.70" height="49.96" fill="#9fa09a"/>
<rect x="435.50" y="178.23" width="13.80" height="195.17" fill="#3f4b8e"/>
<line x1="383.50" y1="157.50" x2="383.50" y2="373.90" stroke="#000" stroke-width="1.08" />
<line x1="383.10" y1="373.46" x2="457.00" y2="373.46" stroke="#000" stroke-width="1.2" />
<line x1="379.80" y1="373.46" x2="383.50" y2="373.46" stroke="#000" stroke-width="0.96" />
<line x1="379.80" y1="352.36" x2="383.50" y2="352.36" stroke="#000" stroke-width="0.96" />
<line x1="379.80" y1="330.65" x2="383.50" y2="330.65" stroke="#000" stroke-width="0.96" />
<line x1="379.80" y1="309.55" x2="383.50" y2="309.55" stroke="#000" stroke-width="0.96" />
<line x1="379.80" y1="288.44" x2="383.50" y2="288.44" stroke="#000" stroke-width="0.96" />
<line x1="379.80" y1="267.34" x2="383.50" y2="267.34" stroke="#000" stroke-width="0.96" />
<line x1="379.80" y1="245.64" x2="383.50" y2="245.64" stroke="#000" stroke-width="0.96" />
<line x1="379.80" y1="224.53" x2="383.50" y2="224.53" stroke="#000" stroke-width="0.96" />
<line x1="379.80" y1="203.43" x2="383.50" y2="203.43" stroke="#000" stroke-width="0.96" />
<line x1="379.80" y1="182.32" x2="383.50" y2="182.32" stroke="#000" stroke-width="0.96" />
<line x1="379.80" y1="160.62" x2="383.50" y2="160.62" stroke="#000" stroke-width="0.96" />
<text x="376.20" y="376.70" font-size="9.4" text-anchor="end" fill="#1a1a1a" textLength="4.90" lengthAdjust="spacingAndGlyphs" stroke="#1a1a1a" stroke-width="0.22">0</text>
<text x="376.20" y="334.18" font-size="9.4" text-anchor="end" fill="#1a1a1a" textLength="9.80" lengthAdjust="spacingAndGlyphs" stroke="#1a1a1a" stroke-width="0.22">20</text>
<text x="376.20" y="291.66" font-size="9.4" text-anchor="end" fill="#1a1a1a" textLength="9.80" lengthAdjust="spacingAndGlyphs" stroke="#1a1a1a" stroke-width="0.22">40</text>
<text x="376.20" y="249.14" font-size="9.4" text-anchor="end" fill="#1a1a1a" textLength="9.80" lengthAdjust="spacingAndGlyphs" stroke="#1a1a1a" stroke-width="0.22">60</text>
<text x="376.20" y="206.62" font-size="9.4" text-anchor="end" fill="#1a1a1a" textLength="9.80" lengthAdjust="spacingAndGlyphs" stroke="#1a1a1a" stroke-width="0.22">80</text>
<text x="376.20" y="164.10" font-size="9.4" text-anchor="end" fill="#1a1a1a" textLength="13.80" lengthAdjust="spacingAndGlyphs" stroke="#1a1a1a" stroke-width="0.22">100</text>
<line x1="398.38" y1="373.40" x2="398.38" y2="376.60" stroke="#000" stroke-width="0.96" />
<line x1="419.50" y1="373.40" x2="419.50" y2="376.60" stroke="#000" stroke-width="0.96" />
<line x1="442.46" y1="373.40" x2="442.46" y2="376.60" stroke="#000" stroke-width="0.96" />
<path d="M397.5 161.4 V156.8 H439.9 V161.4" stroke="#000" stroke-width="1.14" fill="none" />
<path d="M397.5 174.4 V169.9 H418.6 V174.4" stroke="#000" stroke-width="1.14" fill="none" />
<text x="397.80" y="153.00" font-size="8.8" font-style="italic" fill="#1a1a1a" textLength="41.30" lengthAdjust="spacingAndGlyphs" stroke="#1a1a1a" stroke-width="0.1">p = 0.0001</text>
<text x="390.40" y="168.00" font-size="8.8" font-style="italic" fill="#1a1a1a" textLength="36.60" lengthAdjust="spacingAndGlyphs" stroke="#1a1a1a" stroke-width="0.1">p = 0.006</text>
<text x="355.00" y="360.00" font-size="10.7" fill="#1a1a1a" textLength="54.40" lengthAdjust="spacingAndGlyphs" transform="rotate(-90 355.00 360.00)" stroke="#1a1a1a" stroke-width="0.22">Cases showing</text>
<text x="355.00" y="301.80" font-size="10.7" font-style="italic" fill="#1a1a1a" textLength="49.30" lengthAdjust="spacingAndGlyphs" transform="rotate(-90 355.00 301.80)" stroke="#1a1a1a" stroke-width="0.22">PD-L1/PD-L2</text>
<text x="355.00" y="250.00" font-size="10.7" fill="#1a1a1a" textLength="79.00" lengthAdjust="spacingAndGlyphs" transform="rotate(-90 355.00 250.00)" stroke="#1a1a1a" stroke-width="0.22">relative copy gain (%)</text>
<text x="402.50" y="386.40" font-size="8.7" text-anchor="end" fill="#1a1a1a" textLength="39.00" lengthAdjust="spacingAndGlyphs" transform="rotate(-45 402.50 386.40)" stroke="#1a1a1a" stroke-width="0.12">TCRLBCL</text>
<text x="424.20" y="386.40" font-size="8.7" text-anchor="end" fill="#1a1a1a" textLength="28.50" lengthAdjust="spacingAndGlyphs" transform="rotate(-45 424.20 386.40)" stroke="#1a1a1a" stroke-width="0.12">DLBCL</text>
<text x="432.10" y="393.20" font-size="8.7" text-anchor="end" fill="#1a1a1a" textLength="24.00" lengthAdjust="spacingAndGlyphs" transform="rotate(-45 432.10 393.20)" stroke="#1a1a1a" stroke-width="0.12">-NOS</text>
<text x="447.50" y="385.80" font-size="8.7" text-anchor="end" fill="#1a1a1a" textLength="15.30" lengthAdjust="spacingAndGlyphs" transform="rotate(-45 447.50 385.80)" stroke="#1a1a1a" stroke-width="0.12">cHL</text>
<defs>
<filter id="dn" x="0" y="0" width="100%" height="100%" color-interpolation-filters="sRGB">
<feTurbulence type="fractalNoise" baseFrequency="0.09" numOctaves="3" seed="8" result="n"/>
<feColorMatrix in="n" type="matrix" values="0 0 0 0 0.45  0 0 0 0 0.28  0 0 0 0 0.1  2.4 0 0 0 -0.95"/>
<feGaussianBlur stdDeviation="0.7"/>
</filter>
<filter id="dw" x="0" y="0" width="100%" height="100%" color-interpolation-filters="sRGB">
<feTurbulence type="fractalNoise" baseFrequency="0.07" numOctaves="2" seed="21" result="n"/>
<feColorMatrix in="n" type="matrix" values="0 0 0 0 1  0 0 0 0 1  0 0 0 0 1  0 2.4 0 0 -0.95"/>
<feGaussianBlur stdDeviation="0.8"/>
</filter>
<filter id="d15" x="-20%" y="-20%" width="140%" height="140%"><feGaussianBlur stdDeviation="1.5"/></filter>
<filter id="d25" x="-20%" y="-20%" width="140%" height="140%"><feGaussianBlur stdDeviation="2.8"/></filter>
</defs>
<g clip-path="url(#cD1)">
<rect x="28.00" y="403.80" width="84.00" height="83.80" fill="#e8dcc6"/>
<g filter="url(#d25)">
<ellipse cx="38.3" cy="449.0" rx="8.65" ry="14.42" fill="#dcc090"/>
<ellipse cx="32.5" cy="483.6" rx="5.77" ry="4.81" fill="#c89858"/>
<ellipse cx="102.7" cy="436.5" rx="10.58" ry="21.15" fill="#f1ebdf"/>
<ellipse cx="96.9" cy="478.8" rx="15.38" ry="7.69" fill="#efe8dc"/>
<ellipse cx="68.1" cy="409.5" rx="19.23" ry="4.81" fill="#e6d4b0"/>
<ellipse cx="68.1" cy="482.6" rx="19.23" ry="5.77" fill="#e9dfd0"/>
</g>
<g filter="url(#d15)">
<path d="M75.8 417.2 C79.0 417.4 82.7 418.8 85.4 421.1 C88.1 423.3 90.8 427.2 92.1 430.7 C93.5 434.2 93.6 438.1 93.5 442.2 C93.3 446.4 92.2 451.8 91.2 455.7 C90.1 459.5 89.6 462.6 87.3 465.3 C85.1 468.0 81.5 470.9 77.7 472.0 C73.8 473.2 68.4 472.8 64.2 472.0 C60.1 471.2 55.8 470.0 52.7 467.2 C49.6 464.5 46.9 459.2 45.4 455.7 C43.8 452.2 42.9 449.3 43.5 446.1 C44.0 442.9 46.7 439.3 48.8 436.5 C51.0 433.6 53.7 431.5 56.5 428.8 C59.4 426.0 62.9 422.0 66.2 420.1 C69.4 418.2 72.6 417.1 75.8 417.2 Z" fill="#b87a38"/>
<path d="M74.8 423.4 C77.3 423.5 80.4 425.0 82.5 426.8 C84.6 428.7 86.4 431.8 87.3 434.5 C88.2 437.3 88.2 439.8 88.1 443.2 C87.9 446.6 87.5 451.5 86.5 454.7 C85.6 457.9 84.3 460.3 82.5 462.4 C80.7 464.6 78.7 466.8 75.8 467.6 C72.9 468.5 68.6 468.3 65.2 467.6 C61.8 466.9 58.0 465.4 55.6 463.4 C53.1 461.3 51.2 458.0 50.4 455.3 C49.5 452.6 49.7 449.7 50.4 447.0 C51.1 444.4 52.9 441.7 54.6 439.3 C56.3 437.0 58.2 435.2 60.4 433.0 C62.6 430.8 65.3 427.5 67.7 425.9 C70.1 424.3 72.3 423.2 74.8 423.4 Z" fill="#d9a870"/>
<ellipse cx="48.8" cy="453.8" rx="4.23" ry="9.62" fill="#a86020" transform="rotate(-15 48.8 453.8)"/>
<ellipse cx="58.5" cy="426.8" rx="5.77" ry="2.88" fill="#b06a26" transform="rotate(-35 58.5 426.8)"/>
<ellipse cx="83.5" cy="424.9" rx="4.81" ry="2.88" fill="#ac6624" transform="rotate(35 83.5 424.9)"/>
<ellipse cx="88.3" cy="432.6" rx="2.88" ry="6.73" fill="#b4722c" transform="rotate(-15 88.3 432.6)"/>
<ellipse cx="68.1" cy="469.5" rx="10.58" ry="2.12" fill="#b47030"/>
<ellipse cx="70.4" cy="463.0" rx="14.42" ry="4.42" fill="#efd6b8"/>
<ellipse cx="53.7" cy="451.8" rx="2.88" ry="6.73" fill="#e4c098" transform="rotate(-20 53.7 451.8)"/>
<path d="M71.9 424.9 C74.8 424.9 79.1 426.5 81.5 428.8 C83.9 431.0 85.7 435.2 86.3 438.4 C87.0 441.6 86.5 444.8 85.4 448.0 C84.3 451.2 82.2 455.5 79.6 457.6 C77.1 459.7 73.2 460.8 70.0 460.5 C66.8 460.2 62.8 458.1 60.4 455.7 C58.0 453.3 56.1 449.3 55.6 446.1 C55.1 442.9 56.1 439.3 57.5 436.5 C58.9 433.6 61.8 430.7 64.2 428.8 C66.6 426.8 69.0 424.9 71.9 424.9 Z" fill="#b02a62"/>
<ellipse cx="70.4" cy="441.8" rx="9.62" ry="10.58" fill="#b8205c"/>
<ellipse cx="61.3" cy="446.1" rx="3.85" ry="5.77" fill="#a83470"/>
<ellipse cx="79.6" cy="436.5" rx="3.85" ry="4.81" fill="#a42c66"/>
<ellipse cx="68.1" cy="436.5" rx="2.88" ry="1.92" fill="#8c2058"/>
<ellipse cx="77.7" cy="446.1" rx="2.40" ry="2.88" fill="#922058"/>
<ellipse cx="65.2" cy="449.9" rx="2.88" ry="1.92" fill="#8a2056"/>
<ellipse cx="46.9" cy="429.7" rx="6.92" ry="10.77" fill="#a0a0b4" transform="rotate(22 46.9 429.7)"/>
<ellipse cx="46.9" cy="429.7" rx="5.19" ry="9.04" fill="#cfcfdc" transform="rotate(22 46.9 429.7)"/>
<ellipse cx="34.4" cy="421.1" rx="5.77" ry="9.62" fill="#bcbcd6" transform="rotate(35 34.4 421.1)"/>
<ellipse cx="96.9" cy="447.0" rx="7.50" ry="10.19" fill="#9a9abc" transform="rotate(8 96.9 447.0)"/>
<ellipse cx="96.9" cy="447.0" rx="5.77" ry="8.46" fill="#d0d0e4" transform="rotate(8 96.9 447.0)"/>
<ellipse cx="97.9" cy="446.1" rx="1.92" ry="2.88" fill="#a8a8cc"/>
<ellipse cx="100.8" cy="408.6" rx="10.58" ry="5.38" fill="#a0a0d6"/>
<ellipse cx="50.8" cy="476.8" rx="8.65" ry="5.38" fill="#d0d0e0"/>
<ellipse cx="102.7" cy="423.0" rx="4.81" ry="5.77" fill="#d2cae0"/>
<ellipse cx="81.5" cy="481.7" rx="9.62" ry="4.81" fill="#dcdce8"/>
</g>
<rect x="28.00" y="403.80" width="84.00" height="83.80" fill="#000" filter="url(#dn)" opacity="0.2"/>
<rect x="28.00" y="403.80" width="84.00" height="83.80" fill="#fff" filter="url(#dw)" opacity="0.25"/>
</g>
<text x="42.40" y="498.80" font-size="9" fill="#a12a42" textLength="23.60" lengthAdjust="spacingAndGlyphs" stroke="#a12a42" stroke-width="0.15">PD-L1</text>
<text x="69.80" y="498.80" font-size="9" fill="#444" textLength="3.40" lengthAdjust="spacingAndGlyphs" stroke="#444" stroke-width="0.15">/</text>
<text x="76.00" y="498.80" font-size="9" fill="#c0184a" textLength="21.20" lengthAdjust="spacingAndGlyphs" stroke="#c0184a" stroke-width="0.15">PAX5</text>
<g clip-path="url(#cD2)">
<rect x="138.00" y="403.80" width="84.00" height="83.20" fill="#ebe2d0"/>
<g filter="url(#d25)">
<ellipse cx="143.8" cy="442.6" rx="8.65" ry="7.69" fill="#c07c34"/>
<ellipse cx="149.2" cy="461.5" rx="4.81" ry="5.77" fill="#d0a060"/>
<ellipse cx="141.5" cy="405.7" rx="5.77" ry="2.88" fill="#c89048"/>
<ellipse cx="214.6" cy="465.3" rx="8.65" ry="8.65" fill="#ecdcc0"/>
<ellipse cx="149.2" cy="482.6" rx="7.69" ry="5.77" fill="#ead8b8"/>
<ellipse cx="210.8" cy="417.2" rx="7.69" ry="5.77" fill="#e8dcc8"/>
</g>
<g filter="url(#d15)">
<ellipse cx="141.5" cy="421.1" rx="7.69" ry="10.58" fill="#a098c8"/>
<ellipse cx="140.6" cy="419.2" rx="3.85" ry="4.81" fill="#8880bc"/>
<ellipse cx="156.9" cy="409.5" rx="9.62" ry="6.73" fill="#b0a8d0"/>
<ellipse cx="189.6" cy="410.5" rx="11.54" ry="7.69" fill="#b8b0d8"/>
<ellipse cx="187.7" cy="409.5" rx="4.81" ry="3.85" fill="#a098cc"/>
<ellipse cx="214.6" cy="428.8" rx="7.69" ry="6.73" fill="#c4bcde"/>
<ellipse cx="217.5" cy="449.9" rx="5.77" ry="8.65" fill="#a8a0d4"/>
<ellipse cx="155.0" cy="468.2" rx="9.62" ry="8.65" fill="#b4acd6"/>
<ellipse cx="187.7" cy="476.8" rx="13.46" ry="7.69" fill="#c4bcde"/>
<ellipse cx="142.5" cy="482.6" rx="5.77" ry="4.81" fill="#b0a8d0"/>
<ellipse cx="214.6" cy="478.8" rx="6.73" ry="6.73" fill="#cac2de"/>
<ellipse cx="162.7" cy="484.2" rx="6.73" ry="3.27" fill="#b88040"/>
<ellipse cx="171.3" cy="409.9" rx="3.46" ry="6.35" fill="#f8f4f0"/>
<path d="M168.5 417.8 C173.3 417.2 179.0 417.6 183.8 418.8 C188.7 419.9 193.4 421.6 197.3 424.5 C201.2 427.5 205.3 431.9 207.3 436.5 C209.4 441.0 210.3 447.3 209.6 451.8 C209.0 456.4 207.1 460.9 203.5 463.8 C199.8 466.6 192.9 468.4 187.7 468.8 C182.5 469.1 177.1 467.5 172.3 465.7 C167.5 463.9 162.4 461.3 158.8 458.0 C155.3 454.7 152.3 450.3 150.8 446.1 C149.3 441.8 149.1 436.5 149.8 432.6 C150.5 428.7 151.9 425.1 155.0 422.6 C158.1 420.1 163.7 418.4 168.5 417.8 Z" fill="#bb7a30"/>
<ellipse cx="203.5" cy="448.4" rx="5.96" ry="13.46" fill="#a05418" transform="rotate(-10 203.5 448.4)"/>
<ellipse cx="197.3" cy="430.7" rx="4.81" ry="6.73" fill="#a85c1c" transform="rotate(-40 197.3 430.7)"/>
<ellipse cx="176.2" cy="420.7" rx="13.46" ry="3.08" fill="#a86220"/>
<ellipse cx="193.5" cy="464.3" rx="8.65" ry="3.46" fill="#b06a24" transform="rotate(-20 193.5 464.3)"/>
<ellipse cx="154.0" cy="447.0" rx="2.88" ry="8.65" fill="#d8a868" transform="rotate(-10 154.0 447.0)"/>
<ellipse cx="164.6" cy="462.4" rx="6.73" ry="2.50" fill="#cf9a58" transform="rotate(20 164.6 462.4)"/>
<path d="M173.3 424.0 C177.4 423.4 183.2 423.7 186.7 425.3 C190.3 426.9 192.8 430.4 194.4 433.6 C196.0 436.7 196.2 440.8 196.3 444.2 C196.4 447.5 196.4 451.0 195.0 453.8 C193.6 456.5 191.0 459.1 187.7 460.5 C184.4 461.9 179.2 462.8 175.2 462.4 C171.2 462.0 166.5 460.4 163.7 458.0 C160.8 455.6 159.0 451.6 157.9 448.0 C156.8 444.4 156.3 439.7 156.9 436.5 C157.6 433.3 159.0 430.9 161.7 428.8 C164.5 426.7 169.1 424.5 173.3 424.0 Z" fill="#dcc8b4"/>
<path d="M175.2 426.8 C179.4 425.8 183.7 426.8 186.7 428.4 C189.8 430.0 192.2 432.9 193.5 436.5 C194.7 440.1 195.4 446.3 194.4 449.9 C193.5 453.5 190.9 456.3 187.7 458.0 C184.5 459.7 179.0 460.4 175.2 459.9 C171.3 459.5 167.1 457.8 164.6 455.3 C162.1 452.8 160.9 448.6 160.4 445.1 C159.9 441.7 159.3 437.6 161.7 434.5 C164.2 431.5 171.0 427.9 175.2 426.8 Z" fill="#c4c2de"/>
<ellipse cx="176.2" cy="445.1" rx="4.81" ry="4.81" fill="#8c8cc8"/>
<ellipse cx="164.6" cy="444.2" rx="2.88" ry="3.46" fill="#9090c8"/>
<ellipse cx="186.2" cy="436.5" rx="3.46" ry="3.85" fill="#9c9cd0"/>
<ellipse cx="183.8" cy="453.8" rx="3.85" ry="2.88" fill="#a0a0d0"/>
<ellipse cx="171.3" cy="433.6" rx="5.77" ry="3.46" fill="#e4e2ee"/>
<ellipse cx="187.7" cy="446.1" rx="2.88" ry="3.85" fill="#dedcee"/>
</g>
<rect x="138.00" y="403.80" width="84.00" height="83.20" fill="#000" filter="url(#dn)" opacity="0.2"/>
<rect x="138.00" y="403.80" width="84.00" height="83.20" fill="#fff" filter="url(#dw)" opacity="0.25"/>
</g>
<text x="165.20" y="498.80" font-size="9" fill="#b02448" textLength="24.60" lengthAdjust="spacingAndGlyphs" stroke="#b02448" stroke-width="0.15">PD-L2</text>
<g stroke="#120c0c" stroke-width="1.05">
<rect x="48.00" y="727.20" width="6.74" height="17.00" fill="#8d4848"/>
<rect x="54.74" y="721.40" width="6.74" height="22.80" fill="#f6d6d0"/>
<rect x="61.48" y="694.00" width="6.74" height="50.20" fill="#111312"/>
<rect x="68.23" y="690.10" width="6.74" height="54.10" fill="#111312"/>
<rect x="74.97" y="679.10" width="6.74" height="65.10" fill="#8d4848"/>
<rect x="81.71" y="677.40" width="6.74" height="66.80" fill="#f6d6d0"/>
<rect x="88.45" y="669.00" width="6.74" height="75.20" fill="#e5a5a3"/>
<rect x="95.19" y="662.20" width="6.74" height="82.00" fill="#f6d6d0"/>
<rect x="101.94" y="656.50" width="6.74" height="87.70" fill="#e5a5a3"/>
<rect x="108.68" y="650.20" width="6.74" height="94.00" fill="#e5a5a3"/>
<rect x="115.42" y="647.50" width="6.74" height="96.70" fill="#e5a5a3"/>
<rect x="122.16" y="645.50" width="6.74" height="98.70" fill="#8d4848"/>
<rect x="128.90" y="639.70" width="6.74" height="104.50" fill="#e5a5a3"/>
<rect x="135.65" y="637.70" width="6.74" height="106.50" fill="#e5a5a3"/>
<rect x="142.39" y="636.60" width="6.74" height="107.60" fill="#f6d6d0"/>
<rect x="149.13" y="633.60" width="6.74" height="110.60" fill="#e5a5a3"/>
<rect x="155.87" y="630.30" width="6.74" height="113.90" fill="#e5a5a3"/>
<rect x="162.61" y="623.50" width="6.74" height="120.70" fill="#f6d6d0"/>
<rect x="169.36" y="622.50" width="6.74" height="121.70" fill="#f6d6d0"/>
<rect x="176.10" y="621.50" width="6.74" height="122.70" fill="#f6d6d0"/>
<rect x="182.84" y="616.00" width="6.74" height="128.20" fill="#e5a5a3"/>
<rect x="189.58" y="613.75" width="6.74" height="130.45" fill="#e5a5a3"/>
<rect x="196.32" y="610.50" width="6.74" height="133.70" fill="#e5a5a3"/>
<rect x="203.07" y="597.00" width="6.74" height="147.20" fill="#e5a5a3"/>
<rect x="209.81" y="590.75" width="6.74" height="153.45" fill="#e5a5a3"/>
<rect x="216.55" y="580.00" width="6.74" height="164.20" fill="#e5a5a3"/>
<rect x="223.29" y="578.75" width="6.74" height="165.45" fill="#e5a5a3"/>
<rect x="230.03" y="569.25" width="6.74" height="174.95" fill="#8d4848"/>
<rect x="236.78" y="538.25" width="6.74" height="205.95" fill="#8d4848"/>
<rect x="243.52" y="537.50" width="6.74" height="206.70" fill="#8d4848"/>
<rect x="250.26" y="537.50" width="6.74" height="206.70" fill="#8d4848"/>
</g>
<line x1="45.42" y1="533.40" x2="45.42" y2="744.60" stroke="#000" stroke-width="1.14" />
<line x1="44.90" y1="744.34" x2="258.00" y2="744.34" stroke="#000" stroke-width="1.2" />
<line x1="41.70" y1="536.40" x2="45.30" y2="536.40" stroke="#000" stroke-width="1.02" />
<text x="37.90" y="539.56" font-size="9.4" text-anchor="end" fill="#1a1a1a" textLength="14.40" lengthAdjust="spacingAndGlyphs" stroke="#1a1a1a" stroke-width="0.22">300</text>
<line x1="41.70" y1="559.38" x2="45.30" y2="559.38" stroke="#000" stroke-width="1.02" />
<text x="37.90" y="562.50" font-size="9.4" text-anchor="end" fill="#1a1a1a" textLength="14.40" lengthAdjust="spacingAndGlyphs" stroke="#1a1a1a" stroke-width="0.22">160</text>
<line x1="41.70" y1="584.50" x2="45.30" y2="584.50" stroke="#000" stroke-width="1.02" />
<text x="37.90" y="587.80" font-size="9.4" text-anchor="end" fill="#1a1a1a" textLength="9.50" lengthAdjust="spacingAndGlyphs" stroke="#1a1a1a" stroke-width="0.22">80</text>
<line x1="41.70" y1="609.62" x2="45.30" y2="609.62" stroke="#000" stroke-width="1.02" />
<text x="37.90" y="613.10" font-size="9.4" text-anchor="end" fill="#1a1a1a" textLength="9.50" lengthAdjust="spacingAndGlyphs" stroke="#1a1a1a" stroke-width="0.22">40</text>
<line x1="41.70" y1="635.34" x2="45.30" y2="635.34" stroke="#000" stroke-width="1.02" />
<text x="37.90" y="638.40" font-size="9.4" text-anchor="end" fill="#1a1a1a" textLength="9.50" lengthAdjust="spacingAndGlyphs" stroke="#1a1a1a" stroke-width="0.22">20</text>
<line x1="41.70" y1="660.46" x2="45.30" y2="660.46" stroke="#000" stroke-width="1.02" />
<text x="37.90" y="663.70" font-size="9.4" text-anchor="end" fill="#1a1a1a" textLength="9.20" lengthAdjust="spacingAndGlyphs" stroke="#1a1a1a" stroke-width="0.22">10</text>
<line x1="41.70" y1="685.58" x2="45.30" y2="685.58" stroke="#000" stroke-width="1.02" />
<text x="37.90" y="689.00" font-size="9.4" text-anchor="end" fill="#1a1a1a" textLength="4.30" lengthAdjust="spacingAndGlyphs" stroke="#1a1a1a" stroke-width="0.22">5</text>
<line x1="41.70" y1="719.36" x2="45.30" y2="719.36" stroke="#000" stroke-width="1.02" />
<text x="37.90" y="722.44" font-size="9.4" text-anchor="end" fill="#1a1a1a" textLength="4.40" lengthAdjust="spacingAndGlyphs" stroke="#1a1a1a" stroke-width="0.22">2</text>
<line x1="51.45" y1="744.20" x2="51.45" y2="747.30" stroke="#000" stroke-width="0.96" />
<line x1="58.35" y1="744.20" x2="58.35" y2="747.30" stroke="#000" stroke-width="0.96" />
<line x1="64.64" y1="744.20" x2="64.64" y2="747.30" stroke="#000" stroke-width="0.96" />
<line x1="71.54" y1="744.20" x2="71.54" y2="747.30" stroke="#000" stroke-width="0.96" />
<line x1="78.44" y1="744.20" x2="78.44" y2="747.30" stroke="#000" stroke-width="0.96" />
<line x1="85.33" y1="744.20" x2="85.33" y2="747.30" stroke="#000" stroke-width="0.96" />
<line x1="91.63" y1="744.20" x2="91.63" y2="747.30" stroke="#000" stroke-width="0.96" />
<line x1="98.53" y1="744.20" x2="98.53" y2="747.30" stroke="#000" stroke-width="0.96" />
<line x1="105.42" y1="744.20" x2="105.42" y2="747.30" stroke="#000" stroke-width="0.96" />
<line x1="112.32" y1="744.20" x2="112.32" y2="747.30" stroke="#000" stroke-width="0.96" />
<line x1="118.62" y1="744.20" x2="118.62" y2="747.30" stroke="#000" stroke-width="0.96" />
<line x1="125.51" y1="744.20" x2="125.51" y2="747.30" stroke="#000" stroke-width="0.96" />
<line x1="132.41" y1="744.20" x2="132.41" y2="747.30" stroke="#000" stroke-width="0.96" />
<line x1="139.31" y1="744.20" x2="139.31" y2="747.30" stroke="#000" stroke-width="0.96" />
<line x1="145.60" y1="744.20" x2="145.60" y2="747.30" stroke="#000" stroke-width="0.96" />
<line x1="152.50" y1="744.20" x2="152.50" y2="747.30" stroke="#000" stroke-width="0.96" />
<line x1="159.40" y1="744.20" x2="159.40" y2="747.30" stroke="#000" stroke-width="0.96" />
<line x1="165.69" y1="744.20" x2="165.69" y2="747.30" stroke="#000" stroke-width="0.96" />
<line x1="172.59" y1="744.20" x2="172.59" y2="747.30" stroke="#000" stroke-width="0.96" />
<line x1="179.49" y1="744.20" x2="179.49" y2="747.30" stroke="#000" stroke-width="0.96" />
<line x1="186.38" y1="744.20" x2="186.38" y2="747.30" stroke="#000" stroke-width="0.96" />
<line x1="192.68" y1="744.20" x2="192.68" y2="747.30" stroke="#000" stroke-width="0.96" />
<line x1="199.58" y1="744.20" x2="199.58" y2="747.30" stroke="#000" stroke-width="0.96" />
<line x1="206.47" y1="744.20" x2="206.47" y2="747.30" stroke="#000" stroke-width="0.96" />
<line x1="213.37" y1="744.20" x2="213.37" y2="747.30" stroke="#000" stroke-width="0.96" />
<line x1="219.67" y1="744.20" x2="219.67" y2="747.30" stroke="#000" stroke-width="0.96" />
<line x1="226.57" y1="744.20" x2="226.57" y2="747.30" stroke="#000" stroke-width="0.96" />
<line x1="233.46" y1="744.20" x2="233.46" y2="747.30" stroke="#000" stroke-width="0.96" />
<line x1="240.36" y1="744.20" x2="240.36" y2="747.30" stroke="#000" stroke-width="0.96" />
<line x1="246.66" y1="744.20" x2="246.66" y2="747.30" stroke="#000" stroke-width="0.96" />
<line x1="253.55" y1="744.20" x2="253.55" y2="747.30" stroke="#000" stroke-width="0.96" />
<text x="16.85" y="664.90" font-size="10.8" fill="#1a1a1a" textLength="52.20" lengthAdjust="spacingAndGlyphs" transform="rotate(-90 16.85 664.90)" stroke="#1a1a1a" stroke-width="0.22">PD-L1 H-score</text>
<text x="125.50" y="760.60" font-size="11" fill="#1a1a1a" textLength="54.00" lengthAdjust="spacingAndGlyphs" stroke="#1a1a1a" stroke-width="0.22">TCRLBCL cases</text>
<rect x="70.40" y="543.60" width="11.00" height="10.80" fill="#111312" stroke="#111" stroke-width="0.9"/>
<text x="85.00" y="551.90" font-size="8.7" fill="#1a1a1a" textLength="28.00" lengthAdjust="spacingAndGlyphs" stroke="#1a1a1a" stroke-width="0.22">Disomy</text>
<rect x="70.40" y="563.30" width="11.00" height="10.80" fill="#f6d6d0" stroke="#111" stroke-width="0.9"/>
<text x="85.00" y="571.60" font-size="8.7" fill="#1a1a1a" textLength="36.50" lengthAdjust="spacingAndGlyphs" stroke="#1a1a1a" stroke-width="0.22">Polysomy</text>
<rect x="141.60" y="543.60" width="11.00" height="10.80" fill="#e5a5a3" stroke="#111" stroke-width="0.9"/>
<text x="156.20" y="551.90" font-size="8.7" fill="#1a1a1a" textLength="38.50" lengthAdjust="spacingAndGlyphs" stroke="#1a1a1a" stroke-width="0.22">Copy gain</text>
<rect x="141.60" y="563.30" width="11.00" height="10.80" fill="#8d4848" stroke="#111" stroke-width="0.9"/>
<text x="156.20" y="571.60" font-size="8.7" fill="#1a1a1a" textLength="50.00" lengthAdjust="spacingAndGlyphs" stroke="#1a1a1a" stroke-width="0.22">Amplification</text>
<rect x="319.00" y="634.00" width="15.40" height="61.80" fill="#8b4545"/>
<rect x="342.20" y="590.00" width="15.10" height="62.70" fill="#8b4545"/>
<line x1="326.54" y1="629.20" x2="326.54" y2="634.00" stroke="#000" stroke-width="1.08" />
<line x1="326.54" y1="695.80" x2="326.54" y2="722.40" stroke="#000" stroke-width="1.08" />
<line x1="322.30" y1="722.46" x2="331.20" y2="722.46" stroke="#000" stroke-width="1.08" />
<path d="M321.8 630.6 Q326.6 627.6 331.6 630.6" stroke="#000" stroke-width="1.08" fill="none" />
<line x1="349.50" y1="550.40" x2="349.50" y2="590.00" stroke="#000" stroke-width="1.08" />
<line x1="349.50" y1="652.70" x2="349.50" y2="728.40" stroke="#000" stroke-width="1.08" />
<line x1="345.00" y1="728.46" x2="354.20" y2="728.46" stroke="#000" stroke-width="1.08" />
<line x1="319.00" y1="659.60" x2="334.40" y2="659.60" stroke="#000" stroke-width="1.56" />
<line x1="342.20" y1="624.00" x2="357.30" y2="624.00" stroke="#000" stroke-width="1.56" />
<circle cx="322.3" cy="630.8" r="1.5" fill="#050505"/>
<circle cx="331.5" cy="630.8" r="1.5" fill="#050505"/>
<circle cx="326.7" cy="629.2" r="1.5" fill="#050505"/>
<circle cx="326.5" cy="642.7" r="1.5" fill="#050505"/>
<circle cx="326.6" cy="646" r="1.5" fill="#050505"/>
<circle cx="326.6" cy="653.5" r="1.5" fill="#050505"/>
<circle cx="326.6" cy="667.6" r="1.5" fill="#050505"/>
<circle cx="326.6" cy="681.2" r="1.5" fill="#050505"/>
<circle cx="326.6" cy="693.5" r="1.5" fill="#050505"/>
<circle cx="326.6" cy="697" r="1.5" fill="#050505"/>
<circle cx="326.6" cy="714.5" r="1.5" fill="#050505"/>
<circle cx="326.6" cy="722.4" r="1.5" fill="#050505"/>
<circle cx="347" cy="590" r="1.5" fill="#050505"/>
<circle cx="351.8" cy="589.2" r="1.5" fill="#050505"/>
<circle cx="349.5" cy="600.4" r="1.5" fill="#050505"/>
<circle cx="349.5" cy="606.5" r="1.5" fill="#050505"/>
<circle cx="349.5" cy="618.8" r="1.5" fill="#050505"/>
<circle cx="349.5" cy="622.7" r="1.5" fill="#050505"/>
<circle cx="349.5" cy="637.3" r="1.5" fill="#050505"/>
<circle cx="349.5" cy="640.4" r="1.5" fill="#050505"/>
<circle cx="352" cy="644.2" r="1.5" fill="#050505"/>
<circle cx="347" cy="646" r="1.5" fill="#050505"/>
<circle cx="349.5" cy="651.2" r="1.5" fill="#050505"/>
<circle cx="349.5" cy="655.8" r="1.5" fill="#050505"/>
<circle cx="349.5" cy="662" r="1.5" fill="#050505"/>
<circle cx="349.5" cy="673.8" r="1.5" fill="#050505"/>
<circle cx="349.5" cy="683.8" r="1.5" fill="#050505"/>
<circle cx="349.5" cy="728.4" r="1.5" fill="#050505"/>
<path d="M345.00 548.09 L347.90 553.31 L342.10 553.31 Z" fill="#0a0a0a"/>
<path d="M349.50 548.09 L352.40 553.31 L346.60 553.31 Z" fill="#0a0a0a"/>
<path d="M353.90 548.09 L356.80 553.31 L351.00 553.31 Z" fill="#0a0a0a"/>
<path d="M349.50 578.09 L352.40 583.31 L346.60 583.31 Z" fill="#0a0a0a"/>
<line x1="315.42" y1="547.10" x2="315.42" y2="744.60" stroke="#000" stroke-width="1.14" />
<line x1="314.90" y1="744.38" x2="360.80" y2="744.38" stroke="#000" stroke-width="1.2" />
<line x1="312.00" y1="550.38" x2="315.30" y2="550.38" stroke="#000" stroke-width="1.02" />
<text x="308.10" y="553.30" font-size="9.4" text-anchor="end" fill="#1a1a1a" textLength="14.60" lengthAdjust="spacingAndGlyphs" stroke="#1a1a1a" stroke-width="0.22">300</text>
<line x1="312.00" y1="571.54" x2="315.30" y2="571.54" stroke="#000" stroke-width="1.02" />
<text x="308.10" y="574.70" font-size="9.4" text-anchor="end" fill="#1a1a1a" textLength="14.40" lengthAdjust="spacingAndGlyphs" stroke="#1a1a1a" stroke-width="0.22">160</text>
<line x1="312.00" y1="595.38" x2="315.30" y2="595.38" stroke="#000" stroke-width="1.02" />
<text x="308.10" y="598.30" font-size="9.4" text-anchor="end" fill="#1a1a1a" textLength="9.60" lengthAdjust="spacingAndGlyphs" stroke="#1a1a1a" stroke-width="0.22">80</text>
<line x1="312.00" y1="618.62" x2="315.30" y2="618.62" stroke="#000" stroke-width="1.02" />
<text x="308.10" y="621.90" font-size="9.4" text-anchor="end" fill="#1a1a1a" textLength="9.60" lengthAdjust="spacingAndGlyphs" stroke="#1a1a1a" stroke-width="0.22">40</text>
<line x1="312.00" y1="642.46" x2="315.30" y2="642.46" stroke="#000" stroke-width="1.02" />
<text x="308.10" y="645.50" font-size="9.4" text-anchor="end" fill="#1a1a1a" textLength="9.60" lengthAdjust="spacingAndGlyphs" stroke="#1a1a1a" stroke-width="0.22">20</text>
<line x1="312.00" y1="666.30" x2="315.30" y2="666.30" stroke="#000" stroke-width="1.02" />
<text x="308.10" y="669.10" font-size="9.4" text-anchor="end" fill="#1a1a1a" textLength="9.20" lengthAdjust="spacingAndGlyphs" stroke="#1a1a1a" stroke-width="0.22">10</text>
<line x1="312.00" y1="689.54" x2="315.30" y2="689.54" stroke="#000" stroke-width="1.02" />
<text x="308.10" y="692.70" font-size="9.4" text-anchor="end" fill="#1a1a1a" textLength="4.30" lengthAdjust="spacingAndGlyphs" stroke="#1a1a1a" stroke-width="0.22">5</text>
<line x1="326.42" y1="744.20" x2="326.42" y2="747.20" stroke="#000" stroke-width="0.96" />
<line x1="349.50" y1="744.20" x2="349.50" y2="747.20" stroke="#000" stroke-width="0.96" />
<path d="M327.5 546 V542.1 H350 V546" stroke="#000" stroke-width="1.14" fill="none" />
<text x="323.00" y="540.00" font-size="8.8" font-style="italic" fill="#1a1a1a" textLength="31.30" lengthAdjust="spacingAndGlyphs" stroke="#1a1a1a" stroke-width="0.1">p = 0.01</text>
<text x="287.20" y="671.70" font-size="10.8" fill="#1a1a1a" textLength="52.20" lengthAdjust="spacingAndGlyphs" transform="rotate(-90 287.20 671.70)" stroke="#1a1a1a" stroke-width="0.22">PD-L1 H-score</text>
<text x="320.80" y="758.70" font-size="8.8" fill="#1a1a1a" textLength="11.70" lengthAdjust="spacingAndGlyphs" stroke="#1a1a1a" stroke-width="0.22">No</text>
<text x="343.00" y="758.70" font-size="8.8" fill="#1a1a1a" textLength="13.30" lengthAdjust="spacingAndGlyphs" stroke="#1a1a1a" stroke-width="0.22">Yes</text>
<text x="315.00" y="773.70" font-size="11" font-style="italic" fill="#1a1a1a" textLength="46.20" lengthAdjust="spacingAndGlyphs" stroke="#1a1a1a" stroke-width="0.22">PD-L1/PD-L2</text>
<text x="283.00" y="786.30" font-size="11" fill="#1a1a1a" textLength="110.00" lengthAdjust="spacingAndGlyphs" stroke="#1a1a1a" stroke-width="0.22">relative copy gain in TCRLBCL</text>
<rect x="452.00" y="608.00" width="13.70" height="59.60" fill="#8b4545"/>
<rect x="473.60" y="720.00" width="13.40" height="24.20" fill="#a4a59f"/>
<rect x="495.40" y="558.80" width="13.40" height="35.00" fill="#3f4b8e"/>
<line x1="458.62" y1="543.90" x2="458.62" y2="608.00" stroke="#000" stroke-width="1.08" />
<line x1="458.62" y1="667.60" x2="458.62" y2="727.80" stroke="#000" stroke-width="1.08" />
<line x1="454.20" y1="727.62" x2="463.00" y2="727.62" stroke="#000" stroke-width="1.08" />
<line x1="453.50" y1="544.30" x2="464.00" y2="544.30" stroke="#000" stroke-width="1.08" />
<line x1="480.50" y1="547.00" x2="480.50" y2="720.00" stroke="#000" stroke-width="1.08" />
<line x1="476.20" y1="547.30" x2="485.00" y2="547.30" stroke="#000" stroke-width="1.08" />
<line x1="502.30" y1="543.50" x2="502.30" y2="558.80" stroke="#000" stroke-width="1.08" />
<line x1="502.30" y1="593.80" x2="502.30" y2="744.20" stroke="#000" stroke-width="1.08" />
<line x1="452.00" y1="639.60" x2="465.70" y2="639.60" stroke="#000" stroke-width="1.56" />
<line x1="473.30" y1="720.00" x2="487.20" y2="720.00" stroke="#000" stroke-width="1.92" />
<line x1="473.60" y1="730.00" x2="487.00" y2="730.00" stroke="#000" stroke-width="1.92" />
<line x1="495.40" y1="572.40" x2="508.80" y2="572.40" stroke="#000" stroke-width="1.56" />
<circle cx="455" cy="544.3" r="1.45" fill="#050505"/>
<circle cx="458.8" cy="544" r="1.45" fill="#050505"/>
<circle cx="462.5" cy="544" r="1.45" fill="#050505"/>
<circle cx="458.8" cy="575.3" r="1.45" fill="#050505"/>
<circle cx="457" cy="585" r="1.45" fill="#050505"/>
<circle cx="460.6" cy="584.2" r="1.45" fill="#050505"/>
<circle cx="458.8" cy="596" r="1.45" fill="#050505"/>
<circle cx="458.8" cy="602.2" r="1.45" fill="#050505"/>
<circle cx="458.8" cy="615" r="1.45" fill="#050505"/>
<circle cx="458.8" cy="618.8" r="1.45" fill="#050505"/>
<circle cx="458.8" cy="621.6" r="1.45" fill="#050505"/>
<circle cx="458.8" cy="625.5" r="1.45" fill="#050505"/>
<circle cx="455" cy="627.3" r="1.45" fill="#050505"/>
<circle cx="462.5" cy="626.5" r="1.45" fill="#050505"/>
<circle cx="458.8" cy="633.5" r="1.45" fill="#050505"/>
<circle cx="458.8" cy="636.8" r="1.45" fill="#050505"/>
<circle cx="455" cy="641.6" r="1.45" fill="#050505"/>
<circle cx="458.8" cy="641" r="1.45" fill="#050505"/>
<circle cx="462.5" cy="641.6" r="1.45" fill="#050505"/>
<circle cx="458.8" cy="648.5" r="1.45" fill="#050505"/>
<circle cx="458.8" cy="650.5" r="1.45" fill="#050505"/>
<circle cx="458.8" cy="653.2" r="1.45" fill="#050505"/>
<circle cx="458.8" cy="659.2" r="1.45" fill="#050505"/>
<circle cx="458.8" cy="664.7" r="1.45" fill="#050505"/>
<circle cx="458.8" cy="671.2" r="1.45" fill="#050505"/>
<circle cx="458.8" cy="679.3" r="1.45" fill="#050505"/>
<circle cx="458.8" cy="681.4" r="1.45" fill="#050505"/>
<circle cx="458.8" cy="691.6" r="1.45" fill="#050505"/>
<circle cx="458.8" cy="695.5" r="1.45" fill="#050505"/>
<circle cx="458.8" cy="713.8" r="1.45" fill="#050505"/>
<circle cx="458.8" cy="722" r="1.45" fill="#050505"/>
<circle cx="458.8" cy="727.8" r="1.45" fill="#050505"/>
<circle cx="480.5" cy="547" r="1.45" fill="#050505"/>
<circle cx="480.5" cy="681.5" r="1.45" fill="#050505"/>
<circle cx="478.5" cy="695.5" r="1.45" fill="#050505"/>
<circle cx="482.5" cy="695.5" r="1.45" fill="#050505"/>
<circle cx="502" cy="652.2" r="1.45" fill="#050505"/>
<circle cx="502" cy="664.5" r="1.45" fill="#050505"/>
<circle cx="502" cy="695.5" r="1.45" fill="#050505"/>
<rect x="494.35" y="542.80" width="2.3" height="2.2" rx="0.5" fill="#050505"/>
<rect x="495.98" y="542.80" width="2.3" height="2.2" rx="0.5" fill="#050505"/>
<rect x="497.60" y="542.80" width="2.3" height="2.2" rx="0.5" fill="#050505"/>
<rect x="499.23" y="542.80" width="2.3" height="2.2" rx="0.5" fill="#050505"/>
<rect x="500.85" y="542.80" width="2.3" height="2.2" rx="0.5" fill="#050505"/>
<rect x="502.48" y="542.80" width="2.3" height="2.2" rx="0.5" fill="#050505"/>
<rect x="504.10" y="542.80" width="2.3" height="2.2" rx="0.5" fill="#050505"/>
<rect x="505.73" y="542.80" width="2.3" height="2.2" rx="0.5" fill="#050505"/>
<rect x="507.35" y="542.80" width="2.3" height="2.2" rx="0.5" fill="#050505"/>
<rect x="497.05" y="544.90" width="2.3" height="2.2" rx="0.5" fill="#050505"/>
<rect x="498.95" y="545.30" width="2.3" height="2.2" rx="0.5" fill="#050505"/>
<rect x="500.85" y="544.90" width="2.3" height="2.2" rx="0.5" fill="#050505"/>
<rect x="502.75" y="545.30" width="2.3" height="2.2" rx="0.5" fill="#050505"/>
<rect x="504.65" y="544.90" width="2.3" height="2.2" rx="0.5" fill="#050505"/>
<rect x="498.05" y="547.10" width="2.3" height="2.2" rx="0.5" fill="#050505"/>
<rect x="499.92" y="547.50" width="2.3" height="2.2" rx="0.5" fill="#050505"/>
<rect x="501.78" y="547.10" width="2.3" height="2.2" rx="0.5" fill="#050505"/>
<rect x="503.65" y="547.50" width="2.3" height="2.2" rx="0.5" fill="#050505"/>
<rect x="496.45" y="549.40" width="2.3" height="2.2" rx="0.5" fill="#050505"/>
<rect x="498.21" y="550.00" width="2.3" height="2.2" rx="0.5" fill="#050505"/>
<rect x="499.97" y="549.40" width="2.3" height="2.2" rx="0.5" fill="#050505"/>
<rect x="501.73" y="550.00" width="2.3" height="2.2" rx="0.5" fill="#050505"/>
<rect x="503.49" y="549.40" width="2.3" height="2.2" rx="0.5" fill="#050505"/>
<rect x="505.25" y="550.00" width="2.3" height="2.2" rx="0.5" fill="#050505"/>
<rect x="498.05" y="551.60" width="2.3" height="2.2" rx="0.5" fill="#050505"/>
<rect x="499.92" y="552.00" width="2.3" height="2.2" rx="0.5" fill="#050505"/>
<rect x="501.78" y="551.60" width="2.3" height="2.2" rx="0.5" fill="#050505"/>
<rect x="503.65" y="552.00" width="2.3" height="2.2" rx="0.5" fill="#050505"/>
<rect x="498.45" y="553.90" width="2.3" height="2.2" rx="0.5" fill="#050505"/>
<rect x="500.38" y="554.50" width="2.3" height="2.2" rx="0.5" fill="#050505"/>
<rect x="502.32" y="553.90" width="2.3" height="2.2" rx="0.5" fill="#050505"/>
<rect x="504.25" y="554.50" width="2.3" height="2.2" rx="0.5" fill="#050505"/>
<rect x="500.05" y="556.10" width="2.3" height="2.2" rx="0.5" fill="#050505"/>
<rect x="501.65" y="556.10" width="2.3" height="2.2" rx="0.5" fill="#050505"/>
<rect x="494.65" y="558.40" width="2.3" height="2.2" rx="0.5" fill="#050505"/>
<rect x="496.45" y="559.00" width="2.3" height="2.2" rx="0.5" fill="#050505"/>
<rect x="498.25" y="558.40" width="2.3" height="2.2" rx="0.5" fill="#050505"/>
<rect x="500.05" y="559.00" width="2.3" height="2.2" rx="0.5" fill="#050505"/>
<rect x="501.85" y="558.40" width="2.3" height="2.2" rx="0.5" fill="#050505"/>
<rect x="503.65" y="559.00" width="2.3" height="2.2" rx="0.5" fill="#050505"/>
<rect x="505.45" y="558.40" width="2.3" height="2.2" rx="0.5" fill="#050505"/>
<rect x="507.25" y="559.00" width="2.3" height="2.2" rx="0.5" fill="#050505"/>
<rect x="494.65" y="560.50" width="2.3" height="2.2" rx="0.5" fill="#050505"/>
<rect x="497.09" y="561.10" width="2.3" height="2.2" rx="0.5" fill="#050505"/>
<rect x="499.53" y="560.50" width="2.3" height="2.2" rx="0.5" fill="#050505"/>
<rect x="501.97" y="561.10" width="2.3" height="2.2" rx="0.5" fill="#050505"/>
<rect x="504.41" y="560.50" width="2.3" height="2.2" rx="0.5" fill="#050505"/>
<rect x="506.85" y="561.10" width="2.3" height="2.2" rx="0.5" fill="#050505"/>
<rect x="494.85" y="562.50" width="2.3" height="2.2" rx="0.5" fill="#050505"/>
<rect x="496.92" y="563.30" width="2.3" height="2.2" rx="0.5" fill="#050505"/>
<rect x="498.98" y="562.50" width="2.3" height="2.2" rx="0.5" fill="#050505"/>
<rect x="501.05" y="563.30" width="2.3" height="2.2" rx="0.5" fill="#050505"/>
<rect x="503.12" y="562.50" width="2.3" height="2.2" rx="0.5" fill="#050505"/>
<rect x="505.18" y="563.30" width="2.3" height="2.2" rx="0.5" fill="#050505"/>
<rect x="507.25" y="562.50" width="2.3" height="2.2" rx="0.5" fill="#050505"/>
<rect x="495.25" y="564.80" width="2.3" height="2.2" rx="0.5" fill="#050505"/>
<rect x="497.45" y="565.40" width="2.3" height="2.2" rx="0.5" fill="#050505"/>
<rect x="499.65" y="564.80" width="2.3" height="2.2" rx="0.5" fill="#050505"/>
<rect x="501.85" y="565.40" width="2.3" height="2.2" rx="0.5" fill="#050505"/>
<rect x="504.05" y="564.80" width="2.3" height="2.2" rx="0.5" fill="#050505"/>
<rect x="506.25" y="565.40" width="2.3" height="2.2" rx="0.5" fill="#050505"/>
<rect x="496.05" y="567.20" width="2.3" height="2.2" rx="0.5" fill="#050505"/>
<rect x="498.40" y="567.80" width="2.3" height="2.2" rx="0.5" fill="#050505"/>
<rect x="500.75" y="567.20" width="2.3" height="2.2" rx="0.5" fill="#050505"/>
<rect x="503.10" y="567.80" width="2.3" height="2.2" rx="0.5" fill="#050505"/>
<rect x="505.45" y="567.20" width="2.3" height="2.2" rx="0.5" fill="#050505"/>
<rect x="494.65" y="570.20" width="2.3" height="2.2" rx="0.5" fill="#050505"/>
<rect x="496.45" y="570.80" width="2.3" height="2.2" rx="0.5" fill="#050505"/>
<rect x="498.25" y="570.20" width="2.3" height="2.2" rx="0.5" fill="#050505"/>
<rect x="500.05" y="570.80" width="2.3" height="2.2" rx="0.5" fill="#050505"/>
<rect x="501.85" y="570.20" width="2.3" height="2.2" rx="0.5" fill="#050505"/>
<rect x="503.65" y="570.80" width="2.3" height="2.2" rx="0.5" fill="#050505"/>
<rect x="505.45" y="570.20" width="2.3" height="2.2" rx="0.5" fill="#050505"/>
<rect x="507.25" y="570.80" width="2.3" height="2.2" rx="0.5" fill="#050505"/>
<rect x="496.85" y="572.60" width="2.3" height="2.2" rx="0.5" fill="#050505"/>
<rect x="498.85" y="573.20" width="2.3" height="2.2" rx="0.5" fill="#050505"/>
<rect x="500.85" y="572.60" width="2.3" height="2.2" rx="0.5" fill="#050505"/>
<rect x="502.85" y="573.20" width="2.3" height="2.2" rx="0.5" fill="#050505"/>
<rect x="504.85" y="572.60" width="2.3" height="2.2" rx="0.5" fill="#050505"/>
<rect x="498.25" y="574.70" width="2.3" height="2.2" rx="0.5" fill="#050505"/>
<rect x="500.95" y="575.10" width="2.3" height="2.2" rx="0.5" fill="#050505"/>
<rect x="503.65" y="574.70" width="2.3" height="2.2" rx="0.5" fill="#050505"/>
<rect x="504.05" y="576.50" width="2.3" height="2.2" rx="0.5" fill="#050505"/>
<rect x="502.65" y="577.90" width="2.3" height="2.2" rx="0.5" fill="#050505"/>
<rect x="501.25" y="579.30" width="2.3" height="2.2" rx="0.5" fill="#050505"/>
<rect x="499.85" y="580.70" width="2.3" height="2.2" rx="0.5" fill="#050505"/>
<rect x="498.45" y="582.10" width="2.3" height="2.2" rx="0.5" fill="#050505"/>
<rect x="499.65" y="583.50" width="2.3" height="2.2" rx="0.5" fill="#050505"/>
<rect x="501.05" y="584.90" width="2.3" height="2.2" rx="0.5" fill="#050505"/>
<rect x="502.45" y="586.30" width="2.3" height="2.2" rx="0.5" fill="#050505"/>
<rect x="503.85" y="587.50" width="2.3" height="2.2" rx="0.5" fill="#050505"/>
<rect x="496.85" y="587.30" width="2.3" height="2.2" rx="0.5" fill="#050505"/>
<rect x="495.65" y="587.70" width="2.3" height="2.2" rx="0.5" fill="#050505"/>
<rect x="498.05" y="588.10" width="2.3" height="2.2" rx="0.5" fill="#050505"/>
<rect x="503.45" y="587.10" width="2.3" height="2.2" rx="0.5" fill="#050505"/>
<rect x="506.05" y="586.30" width="2.3" height="2.2" rx="0.5" fill="#050505"/>
<rect x="504.85" y="588.50" width="2.3" height="2.2" rx="0.5" fill="#050505"/>
<rect x="500.15" y="590.30" width="2.3" height="2.2" rx="0.5" fill="#050505"/>
<rect x="501.45" y="589.30" width="2.3" height="2.2" rx="0.5" fill="#050505"/>
<rect x="498.85" y="589.50" width="2.3" height="2.2" rx="0.5" fill="#050505"/>
<rect x="495.85" y="577.90" width="2.3" height="2.2" rx="0.5" fill="#050505"/>
<rect x="505.85" y="579.90" width="2.3" height="2.2" rx="0.5" fill="#050505"/>
<rect x="495.45" y="583.40" width="2.3" height="2.2" rx="0.5" fill="#050505"/>
<rect x="506.45" y="583.40" width="2.3" height="2.2" rx="0.5" fill="#050505"/>
<rect x="499.55" y="594.70" width="2.3" height="2.2" rx="0.5" fill="#050505"/>
<rect x="502.45" y="594.70" width="2.3" height="2.2" rx="0.5" fill="#050505"/>
<rect x="499.25" y="596.60" width="2.3" height="2.2" rx="0.5" fill="#050505"/>
<rect x="502.45" y="596.30" width="2.3" height="2.2" rx="0.5" fill="#050505"/>
<rect x="499.25" y="599.60" width="2.3" height="2.2" rx="0.5" fill="#050505"/>
<rect x="502.85" y="599.90" width="2.3" height="2.2" rx="0.5" fill="#050505"/>
<rect x="500.85" y="598.10" width="2.3" height="2.2" rx="0.5" fill="#050505"/>
<rect x="506.75" y="599.40" width="2.3" height="2.2" rx="0.5" fill="#050505"/>
<rect x="495.05" y="601.40" width="2.3" height="2.2" rx="0.5" fill="#050505"/>
<rect x="495.05" y="605.50" width="2.3" height="2.2" rx="0.5" fill="#050505"/>
<rect x="495.05" y="607.80" width="2.3" height="2.2" rx="0.5" fill="#050505"/>
<rect x="506.75" y="605.10" width="2.3" height="2.2" rx="0.5" fill="#050505"/>
<rect x="506.75" y="607.10" width="2.3" height="2.2" rx="0.5" fill="#050505"/>
<rect x="499.25" y="605.80" width="2.3" height="2.2" rx="0.5" fill="#050505"/>
<rect x="502.45" y="607.40" width="2.3" height="2.2" rx="0.5" fill="#050505"/>
<rect x="498.85" y="612.00" width="2.3" height="2.2" rx="0.5" fill="#050505"/>
<rect x="502.85" y="612.00" width="2.3" height="2.2" rx="0.5" fill="#050505"/>
<rect x="500.85" y="612.00" width="2.3" height="2.2" rx="0.5" fill="#050505"/>
<rect x="502.85" y="615.60" width="2.3" height="2.2" rx="0.5" fill="#050505"/>
<rect x="498.85" y="617.40" width="2.3" height="2.2" rx="0.5" fill="#050505"/>
<rect x="500.85" y="619.50" width="2.3" height="2.2" rx="0.5" fill="#050505"/>
<rect x="500.85" y="623.40" width="2.3" height="2.2" rx="0.5" fill="#050505"/>
<rect x="500.85" y="625.70" width="2.3" height="2.2" rx="0.5" fill="#050505"/>
<rect x="500.85" y="629.90" width="2.3" height="2.2" rx="0.5" fill="#050505"/>
<line x1="447.30" y1="540.80" x2="447.30" y2="744.60" stroke="#000" stroke-width="1.14" />
<line x1="446.50" y1="744.38" x2="512.00" y2="744.38" stroke="#000" stroke-width="1.08" />
<line x1="443.60" y1="544.30" x2="446.90" y2="544.30" stroke="#000" stroke-width="1.02" />
<text x="440.00" y="547.10" font-size="9.4" text-anchor="end" fill="#1a1a1a" textLength="14.60" lengthAdjust="spacingAndGlyphs" stroke="#1a1a1a" stroke-width="0.22">300</text>
<line x1="443.60" y1="566.50" x2="446.90" y2="566.50" stroke="#000" stroke-width="1.02" />
<text x="440.00" y="569.60" font-size="9.4" text-anchor="end" fill="#1a1a1a" textLength="14.40" lengthAdjust="spacingAndGlyphs" stroke="#1a1a1a" stroke-width="0.22">160</text>
<line x1="443.60" y1="590.58" x2="446.90" y2="590.58" stroke="#000" stroke-width="1.02" />
<text x="440.00" y="593.80" font-size="9.4" text-anchor="end" fill="#1a1a1a" textLength="9.60" lengthAdjust="spacingAndGlyphs" stroke="#1a1a1a" stroke-width="0.22">80</text>
<line x1="443.60" y1="614.66" x2="446.90" y2="614.66" stroke="#000" stroke-width="1.02" />
<text x="440.00" y="618.00" font-size="9.4" text-anchor="end" fill="#1a1a1a" textLength="9.60" lengthAdjust="spacingAndGlyphs" stroke="#1a1a1a" stroke-width="0.22">40</text>
<line x1="443.60" y1="639.34" x2="446.90" y2="639.34" stroke="#000" stroke-width="1.02" />
<text x="440.00" y="642.20" font-size="9.4" text-anchor="end" fill="#1a1a1a" textLength="9.60" lengthAdjust="spacingAndGlyphs" stroke="#1a1a1a" stroke-width="0.22">20</text>
<line x1="443.60" y1="663.42" x2="446.90" y2="663.42" stroke="#000" stroke-width="1.02" />
<text x="440.00" y="666.40" font-size="9.4" text-anchor="end" fill="#1a1a1a" textLength="9.20" lengthAdjust="spacingAndGlyphs" stroke="#1a1a1a" stroke-width="0.22">10</text>
<line x1="443.60" y1="687.50" x2="446.90" y2="687.50" stroke="#000" stroke-width="1.02" />
<text x="440.00" y="690.60" font-size="9.4" text-anchor="end" fill="#1a1a1a" textLength="4.30" lengthAdjust="spacingAndGlyphs" stroke="#1a1a1a" stroke-width="0.22">5</text>
<line x1="458.46" y1="744.20" x2="458.46" y2="747.20" stroke="#000" stroke-width="0.96" />
<line x1="480.42" y1="744.20" x2="480.42" y2="747.20" stroke="#000" stroke-width="0.96" />
<line x1="502.38" y1="744.20" x2="502.38" y2="747.20" stroke="#000" stroke-width="0.96" />
<path d="M456.6 526.4 V522.5 H497.6 V526.4" stroke="#000" stroke-width="1.14" fill="none" />
<path d="M456.6 538.8 V534.8 H477.3 V538.8" stroke="#000" stroke-width="1.14" fill="none" />
<text x="456.80" y="518.60" font-size="8.8" font-style="italic" fill="#1a1a1a" textLength="41.30" lengthAdjust="spacingAndGlyphs" stroke="#1a1a1a" stroke-width="0.1">p &lt; 0.0001</text>
<text x="456.80" y="531.50" font-size="8.8" font-style="italic" fill="#1a1a1a" textLength="32.30" lengthAdjust="spacingAndGlyphs" stroke="#1a1a1a" stroke-width="0.1">p = 0.03</text>
<text x="419.00" y="668.30" font-size="10.8" fill="#1a1a1a" textLength="52.30" lengthAdjust="spacingAndGlyphs" transform="rotate(-90 419.00 668.30)" stroke="#1a1a1a" stroke-width="0.22">PD-L1 H-score</text>
<text x="462.30" y="756.30" font-size="8.7" text-anchor="end" fill="#1a1a1a" textLength="39.00" lengthAdjust="spacingAndGlyphs" transform="rotate(-45 462.30 756.30)" stroke="#1a1a1a" stroke-width="0.12">TCRLBCL</text>
<text x="483.80" y="756.30" font-size="8.7" text-anchor="end" fill="#1a1a1a" textLength="31.20" lengthAdjust="spacingAndGlyphs" transform="rotate(-45 483.80 756.30)" stroke="#1a1a1a" stroke-width="0.12">DLBCL-</text>
<text x="491.40" y="764.60" font-size="8.7" text-anchor="end" fill="#1a1a1a" textLength="19.50" lengthAdjust="spacingAndGlyphs" transform="rotate(-45 491.40 764.60)" stroke="#1a1a1a" stroke-width="0.12">NOS</text>
<text x="505.40" y="756.30" font-size="8.7" text-anchor="end" fill="#1a1a1a" textLength="15.30" lengthAdjust="spacingAndGlyphs" transform="rotate(-45 505.40 756.30)" stroke="#1a1a1a" stroke-width="0.12">cHL</text>
</svg>
</body>
</html>
